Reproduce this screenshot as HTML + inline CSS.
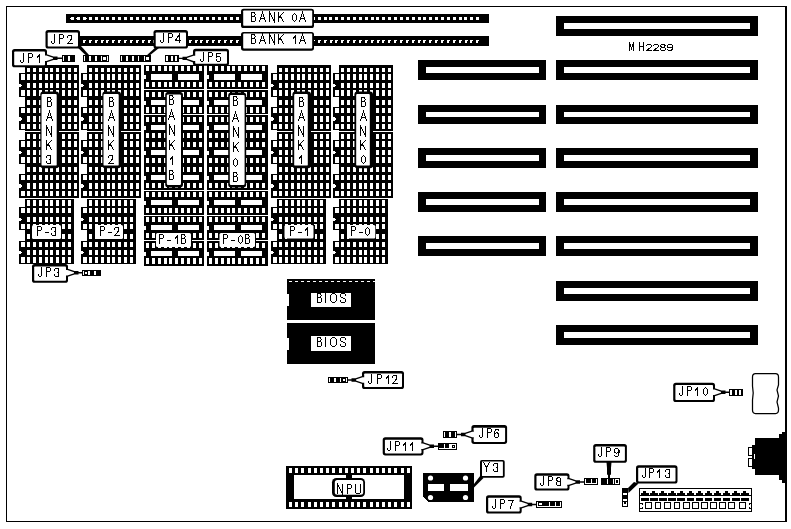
<!DOCTYPE html>
<html><head><meta charset="utf-8"><title>MH2289</title>
<style>
html,body{margin:0;padding:0;background:#fff;}
svg{display:block}
rect,path{shape-rendering:crispEdges}
.aa{shape-rendering:geometricPrecision}
.t{shape-rendering:crispEdges;fill:none;stroke:#000;stroke-linecap:square;stroke-linejoin:miter}
text.h{font-family:"Liberation Sans",sans-serif;fill:#000;fill-opacity:0;stroke:none}
</style></head><body>
<svg width="791" height="529" viewBox="0 0 791 529">
<rect width="791" height="529" fill="#fff"/>
<rect x="6" y="6" width="781" height="1" fill="#000"/>
<rect x="6" y="6" width="1" height="516" fill="#000"/>
<rect x="6" y="521" width="781" height="1" fill="#000"/>
<rect x="785" y="6" width="2" height="516" fill="#000"/>
<rect x="66" y="14" width="423" height="9" fill="#000"/>
<rect x="80" y="36" width="409" height="10" fill="#000"/>
<rect x="71" y="17" width="3" height="3" fill="#fff"/>
<rect x="77" y="17" width="3" height="3" fill="#fff"/>
<rect x="83" y="17" width="3" height="3" fill="#fff"/>
<rect x="89" y="17" width="3" height="3" fill="#fff"/>
<rect x="95" y="17" width="3" height="3" fill="#fff"/>
<rect x="101" y="17" width="3" height="3" fill="#fff"/>
<rect x="106" y="17" width="3" height="3" fill="#fff"/>
<rect x="112" y="17" width="3" height="3" fill="#fff"/>
<rect x="118" y="17" width="3" height="3" fill="#fff"/>
<rect x="124" y="17" width="3" height="3" fill="#fff"/>
<rect x="130" y="17" width="3" height="3" fill="#fff"/>
<rect x="136" y="17" width="3" height="3" fill="#fff"/>
<rect x="142" y="17" width="3" height="3" fill="#fff"/>
<rect x="148" y="17" width="3" height="3" fill="#fff"/>
<rect x="153" y="17" width="3" height="3" fill="#fff"/>
<rect x="159" y="17" width="3" height="3" fill="#fff"/>
<rect x="165" y="17" width="3" height="3" fill="#fff"/>
<rect x="171" y="17" width="3" height="3" fill="#fff"/>
<rect x="177" y="17" width="3" height="3" fill="#fff"/>
<rect x="183" y="17" width="3" height="3" fill="#fff"/>
<rect x="189" y="17" width="3" height="3" fill="#fff"/>
<rect x="194" y="17" width="3" height="3" fill="#fff"/>
<rect x="200" y="17" width="3" height="3" fill="#fff"/>
<rect x="206" y="17" width="3" height="3" fill="#fff"/>
<rect x="212" y="17" width="3" height="3" fill="#fff"/>
<rect x="218" y="17" width="3" height="3" fill="#fff"/>
<rect x="224" y="17" width="3" height="3" fill="#fff"/>
<rect x="230" y="17" width="3" height="3" fill="#fff"/>
<rect x="236" y="17" width="3" height="3" fill="#fff"/>
<rect x="241" y="17" width="3" height="3" fill="#fff"/>
<rect x="247" y="17" width="3" height="3" fill="#fff"/>
<rect x="253" y="17" width="3" height="3" fill="#fff"/>
<rect x="259" y="17" width="3" height="3" fill="#fff"/>
<rect x="265" y="17" width="3" height="3" fill="#fff"/>
<rect x="271" y="17" width="3" height="3" fill="#fff"/>
<rect x="277" y="17" width="3" height="3" fill="#fff"/>
<rect x="283" y="17" width="3" height="3" fill="#fff"/>
<rect x="288" y="17" width="3" height="3" fill="#fff"/>
<rect x="294" y="17" width="3" height="3" fill="#fff"/>
<rect x="300" y="17" width="3" height="3" fill="#fff"/>
<rect x="306" y="17" width="3" height="3" fill="#fff"/>
<rect x="312" y="17" width="3" height="3" fill="#fff"/>
<rect x="318" y="17" width="3" height="3" fill="#fff"/>
<rect x="324" y="17" width="3" height="3" fill="#fff"/>
<rect x="329" y="17" width="3" height="3" fill="#fff"/>
<rect x="335" y="17" width="3" height="3" fill="#fff"/>
<rect x="341" y="17" width="3" height="3" fill="#fff"/>
<rect x="347" y="17" width="3" height="3" fill="#fff"/>
<rect x="353" y="17" width="3" height="3" fill="#fff"/>
<rect x="359" y="17" width="3" height="3" fill="#fff"/>
<rect x="365" y="17" width="3" height="3" fill="#fff"/>
<rect x="371" y="17" width="3" height="3" fill="#fff"/>
<rect x="376" y="17" width="3" height="3" fill="#fff"/>
<rect x="382" y="17" width="3" height="3" fill="#fff"/>
<rect x="388" y="17" width="3" height="3" fill="#fff"/>
<rect x="394" y="17" width="3" height="3" fill="#fff"/>
<rect x="400" y="17" width="3" height="3" fill="#fff"/>
<rect x="406" y="17" width="3" height="3" fill="#fff"/>
<rect x="412" y="17" width="3" height="3" fill="#fff"/>
<rect x="418" y="17" width="3" height="3" fill="#fff"/>
<rect x="423" y="17" width="3" height="3" fill="#fff"/>
<rect x="429" y="17" width="3" height="3" fill="#fff"/>
<rect x="435" y="17" width="3" height="3" fill="#fff"/>
<rect x="441" y="17" width="3" height="3" fill="#fff"/>
<rect x="447" y="17" width="3" height="3" fill="#fff"/>
<rect x="453" y="17" width="3" height="3" fill="#fff"/>
<rect x="459" y="17" width="3" height="3" fill="#fff"/>
<rect x="464" y="17" width="3" height="3" fill="#fff"/>
<rect x="470" y="17" width="3" height="3" fill="#fff"/>
<rect x="476" y="17" width="3" height="3" fill="#fff"/>
<rect x="70" y="18" width="1" height="1" fill="#fff"/>
<rect x="76" y="18" width="1" height="1" fill="#fff"/>
<rect x="86" y="18" width="1" height="1" fill="#fff"/>
<rect x="83" y="40" width="2" height="3" fill="#fff"/>
<rect x="85" y="40" width="1" height="1" fill="#fff"/>
<rect x="89" y="40" width="2" height="3" fill="#fff"/>
<rect x="91" y="40" width="1" height="1" fill="#fff"/>
<rect x="95" y="40" width="2" height="3" fill="#fff"/>
<rect x="97" y="40" width="1" height="1" fill="#fff"/>
<rect x="101" y="40" width="2" height="3" fill="#fff"/>
<rect x="103" y="40" width="1" height="1" fill="#fff"/>
<rect x="106" y="40" width="2" height="3" fill="#fff"/>
<rect x="108" y="40" width="1" height="1" fill="#fff"/>
<rect x="112" y="40" width="2" height="3" fill="#fff"/>
<rect x="114" y="40" width="1" height="1" fill="#fff"/>
<rect x="118" y="40" width="2" height="3" fill="#fff"/>
<rect x="120" y="40" width="1" height="1" fill="#fff"/>
<rect x="124" y="40" width="2" height="3" fill="#fff"/>
<rect x="126" y="40" width="1" height="1" fill="#fff"/>
<rect x="130" y="40" width="2" height="3" fill="#fff"/>
<rect x="132" y="40" width="1" height="1" fill="#fff"/>
<rect x="136" y="40" width="2" height="3" fill="#fff"/>
<rect x="138" y="40" width="1" height="1" fill="#fff"/>
<rect x="142" y="40" width="2" height="3" fill="#fff"/>
<rect x="144" y="40" width="1" height="1" fill="#fff"/>
<rect x="148" y="40" width="2" height="3" fill="#fff"/>
<rect x="150" y="40" width="1" height="1" fill="#fff"/>
<rect x="153" y="40" width="2" height="3" fill="#fff"/>
<rect x="155" y="40" width="1" height="1" fill="#fff"/>
<rect x="159" y="40" width="2" height="3" fill="#fff"/>
<rect x="161" y="40" width="1" height="1" fill="#fff"/>
<rect x="165" y="40" width="2" height="3" fill="#fff"/>
<rect x="167" y="40" width="1" height="1" fill="#fff"/>
<rect x="171" y="40" width="2" height="3" fill="#fff"/>
<rect x="173" y="40" width="1" height="1" fill="#fff"/>
<rect x="177" y="40" width="2" height="3" fill="#fff"/>
<rect x="179" y="40" width="1" height="1" fill="#fff"/>
<rect x="183" y="40" width="2" height="3" fill="#fff"/>
<rect x="185" y="40" width="1" height="1" fill="#fff"/>
<rect x="189" y="40" width="2" height="3" fill="#fff"/>
<rect x="191" y="40" width="1" height="1" fill="#fff"/>
<rect x="195" y="40" width="2" height="3" fill="#fff"/>
<rect x="197" y="40" width="1" height="1" fill="#fff"/>
<rect x="200" y="40" width="2" height="3" fill="#fff"/>
<rect x="202" y="40" width="1" height="1" fill="#fff"/>
<rect x="206" y="40" width="2" height="3" fill="#fff"/>
<rect x="208" y="40" width="1" height="1" fill="#fff"/>
<rect x="212" y="40" width="2" height="3" fill="#fff"/>
<rect x="214" y="40" width="1" height="1" fill="#fff"/>
<rect x="218" y="40" width="2" height="3" fill="#fff"/>
<rect x="220" y="40" width="1" height="1" fill="#fff"/>
<rect x="224" y="40" width="2" height="3" fill="#fff"/>
<rect x="226" y="40" width="1" height="1" fill="#fff"/>
<rect x="230" y="40" width="2" height="3" fill="#fff"/>
<rect x="232" y="40" width="1" height="1" fill="#fff"/>
<rect x="236" y="40" width="2" height="3" fill="#fff"/>
<rect x="238" y="40" width="1" height="1" fill="#fff"/>
<rect x="241" y="40" width="2" height="3" fill="#fff"/>
<rect x="243" y="40" width="1" height="1" fill="#fff"/>
<rect x="247" y="40" width="2" height="3" fill="#fff"/>
<rect x="249" y="40" width="1" height="1" fill="#fff"/>
<rect x="253" y="40" width="2" height="3" fill="#fff"/>
<rect x="255" y="40" width="1" height="1" fill="#fff"/>
<rect x="259" y="40" width="2" height="3" fill="#fff"/>
<rect x="261" y="40" width="1" height="1" fill="#fff"/>
<rect x="265" y="40" width="2" height="3" fill="#fff"/>
<rect x="267" y="40" width="1" height="1" fill="#fff"/>
<rect x="271" y="40" width="2" height="3" fill="#fff"/>
<rect x="273" y="40" width="1" height="1" fill="#fff"/>
<rect x="277" y="40" width="2" height="3" fill="#fff"/>
<rect x="279" y="40" width="1" height="1" fill="#fff"/>
<rect x="283" y="40" width="2" height="3" fill="#fff"/>
<rect x="285" y="40" width="1" height="1" fill="#fff"/>
<rect x="288" y="40" width="2" height="3" fill="#fff"/>
<rect x="290" y="40" width="1" height="1" fill="#fff"/>
<rect x="294" y="40" width="2" height="3" fill="#fff"/>
<rect x="296" y="40" width="1" height="1" fill="#fff"/>
<rect x="300" y="40" width="2" height="3" fill="#fff"/>
<rect x="302" y="40" width="1" height="1" fill="#fff"/>
<rect x="306" y="40" width="2" height="3" fill="#fff"/>
<rect x="308" y="40" width="1" height="1" fill="#fff"/>
<rect x="312" y="40" width="2" height="3" fill="#fff"/>
<rect x="314" y="40" width="1" height="1" fill="#fff"/>
<rect x="318" y="40" width="2" height="3" fill="#fff"/>
<rect x="320" y="40" width="1" height="1" fill="#fff"/>
<rect x="324" y="40" width="2" height="3" fill="#fff"/>
<rect x="326" y="40" width="1" height="1" fill="#fff"/>
<rect x="330" y="40" width="2" height="3" fill="#fff"/>
<rect x="332" y="40" width="1" height="1" fill="#fff"/>
<rect x="335" y="40" width="2" height="3" fill="#fff"/>
<rect x="337" y="40" width="1" height="1" fill="#fff"/>
<rect x="341" y="40" width="2" height="3" fill="#fff"/>
<rect x="343" y="40" width="1" height="1" fill="#fff"/>
<rect x="347" y="40" width="2" height="3" fill="#fff"/>
<rect x="349" y="40" width="1" height="1" fill="#fff"/>
<rect x="353" y="40" width="2" height="3" fill="#fff"/>
<rect x="355" y="40" width="1" height="1" fill="#fff"/>
<rect x="359" y="40" width="2" height="3" fill="#fff"/>
<rect x="361" y="40" width="1" height="1" fill="#fff"/>
<rect x="365" y="40" width="2" height="3" fill="#fff"/>
<rect x="367" y="40" width="1" height="1" fill="#fff"/>
<rect x="371" y="40" width="2" height="3" fill="#fff"/>
<rect x="373" y="40" width="1" height="1" fill="#fff"/>
<rect x="377" y="40" width="2" height="3" fill="#fff"/>
<rect x="379" y="40" width="1" height="1" fill="#fff"/>
<rect x="382" y="40" width="2" height="3" fill="#fff"/>
<rect x="384" y="40" width="1" height="1" fill="#fff"/>
<rect x="388" y="40" width="2" height="3" fill="#fff"/>
<rect x="390" y="40" width="1" height="1" fill="#fff"/>
<rect x="394" y="40" width="2" height="3" fill="#fff"/>
<rect x="396" y="40" width="1" height="1" fill="#fff"/>
<rect x="400" y="40" width="2" height="3" fill="#fff"/>
<rect x="402" y="40" width="1" height="1" fill="#fff"/>
<rect x="406" y="40" width="2" height="3" fill="#fff"/>
<rect x="408" y="40" width="1" height="1" fill="#fff"/>
<rect x="412" y="40" width="2" height="3" fill="#fff"/>
<rect x="414" y="40" width="1" height="1" fill="#fff"/>
<rect x="418" y="40" width="2" height="3" fill="#fff"/>
<rect x="420" y="40" width="1" height="1" fill="#fff"/>
<rect x="423" y="40" width="2" height="3" fill="#fff"/>
<rect x="425" y="40" width="1" height="1" fill="#fff"/>
<rect x="429" y="40" width="2" height="3" fill="#fff"/>
<rect x="431" y="40" width="1" height="1" fill="#fff"/>
<rect x="435" y="40" width="2" height="3" fill="#fff"/>
<rect x="437" y="40" width="1" height="1" fill="#fff"/>
<rect x="441" y="40" width="2" height="3" fill="#fff"/>
<rect x="443" y="40" width="1" height="1" fill="#fff"/>
<rect x="447" y="40" width="2" height="3" fill="#fff"/>
<rect x="449" y="40" width="1" height="1" fill="#fff"/>
<rect x="453" y="40" width="2" height="3" fill="#fff"/>
<rect x="455" y="40" width="1" height="1" fill="#fff"/>
<rect x="459" y="40" width="2" height="3" fill="#fff"/>
<rect x="461" y="40" width="1" height="1" fill="#fff"/>
<rect x="465" y="40" width="2" height="3" fill="#fff"/>
<rect x="467" y="40" width="1" height="1" fill="#fff"/>
<rect x="470" y="40" width="2" height="3" fill="#fff"/>
<rect x="472" y="40" width="1" height="1" fill="#fff"/>
<rect x="476" y="40" width="2" height="3" fill="#fff"/>
<rect x="478" y="40" width="1" height="1" fill="#fff"/>
<rect x="556" y="16" width="202" height="20" fill="#000"/>
<rect x="564" y="23" width="186" height="6" fill="#fff"/>
<rect x="556" y="60" width="202" height="20" fill="#000"/>
<rect x="564" y="67" width="186" height="6" fill="#fff"/>
<rect x="556" y="105" width="202" height="19" fill="#000"/>
<rect x="564" y="112" width="186" height="5" fill="#fff"/>
<rect x="556" y="148" width="202" height="20" fill="#000"/>
<rect x="564" y="155" width="186" height="6" fill="#fff"/>
<rect x="556" y="192" width="202" height="20" fill="#000"/>
<rect x="564" y="199" width="186" height="6" fill="#fff"/>
<rect x="556" y="236" width="202" height="20" fill="#000"/>
<rect x="564" y="243" width="186" height="6" fill="#fff"/>
<rect x="556" y="281" width="202" height="20" fill="#000"/>
<rect x="564" y="288" width="186" height="6" fill="#fff"/>
<rect x="556" y="325" width="202" height="20" fill="#000"/>
<rect x="564" y="332" width="186" height="6" fill="#fff"/>
<rect x="418" y="60" width="128" height="20" fill="#000"/>
<rect x="426" y="67" width="113" height="6" fill="#fff"/>
<rect x="418" y="105" width="128" height="19" fill="#000"/>
<rect x="426" y="112" width="113" height="5" fill="#fff"/>
<rect x="418" y="148" width="128" height="20" fill="#000"/>
<rect x="426" y="155" width="113" height="6" fill="#fff"/>
<rect x="418" y="192" width="128" height="20" fill="#000"/>
<rect x="426" y="199" width="113" height="6" fill="#fff"/>
<rect x="418" y="236" width="128" height="20" fill="#000"/>
<rect x="426" y="243" width="113" height="6" fill="#fff"/>
<rect x="19" y="65" width="60" height="133" fill="#000"/>
<rect x="19" y="65" width="6" height="8" fill="#fff"/>
<rect x="27" y="68" width="3" height="4" fill="#fff"/>
<rect x="33" y="68" width="3" height="4" fill="#fff"/>
<rect x="39" y="68" width="3" height="4" fill="#fff"/>
<rect x="45" y="68" width="3" height="4" fill="#fff"/>
<rect x="50" y="68" width="3" height="4" fill="#fff"/>
<rect x="56" y="68" width="3" height="4" fill="#fff"/>
<rect x="62" y="68" width="3" height="4" fill="#fff"/>
<rect x="68" y="68" width="3" height="4" fill="#fff"/>
<rect x="74" y="68" width="3" height="4" fill="#fff"/>
<rect x="21" y="74" width="4" height="6" fill="#fff"/>
<rect x="27" y="74" width="3" height="6" fill="#fff"/>
<rect x="33" y="74" width="3" height="6" fill="#fff"/>
<rect x="39" y="74" width="3" height="6" fill="#fff"/>
<rect x="45" y="74" width="3" height="6" fill="#fff"/>
<rect x="50" y="74" width="3" height="6" fill="#fff"/>
<rect x="56" y="74" width="3" height="6" fill="#fff"/>
<rect x="62" y="74" width="3" height="6" fill="#fff"/>
<rect x="68" y="74" width="3" height="6" fill="#fff"/>
<rect x="74" y="74" width="3" height="6" fill="#fff"/>
<rect x="19" y="84" width="2" height="3" fill="#fff"/>
<rect x="21" y="85" width="1" height="1" fill="#fff"/>
<rect x="27" y="83" width="3" height="5" fill="#fff"/>
<rect x="33" y="83" width="3" height="5" fill="#fff"/>
<rect x="39" y="83" width="3" height="5" fill="#fff"/>
<rect x="45" y="83" width="3" height="5" fill="#fff"/>
<rect x="50" y="83" width="3" height="5" fill="#fff"/>
<rect x="56" y="83" width="3" height="5" fill="#fff"/>
<rect x="62" y="83" width="3" height="5" fill="#fff"/>
<rect x="68" y="83" width="3" height="5" fill="#fff"/>
<rect x="74" y="83" width="3" height="5" fill="#fff"/>
<rect x="21" y="90" width="4" height="6" fill="#fff"/>
<rect x="27" y="90" width="3" height="6" fill="#fff"/>
<rect x="33" y="90" width="3" height="6" fill="#fff"/>
<rect x="39" y="90" width="3" height="6" fill="#fff"/>
<rect x="45" y="90" width="3" height="6" fill="#fff"/>
<rect x="50" y="90" width="3" height="6" fill="#fff"/>
<rect x="56" y="90" width="3" height="6" fill="#fff"/>
<rect x="62" y="90" width="3" height="6" fill="#fff"/>
<rect x="68" y="90" width="3" height="6" fill="#fff"/>
<rect x="74" y="90" width="3" height="6" fill="#fff"/>
<rect x="19" y="97" width="6" height="10" fill="#fff"/>
<rect x="27" y="100" width="3" height="5" fill="#fff"/>
<rect x="33" y="100" width="3" height="5" fill="#fff"/>
<rect x="39" y="100" width="3" height="5" fill="#fff"/>
<rect x="45" y="100" width="3" height="5" fill="#fff"/>
<rect x="50" y="100" width="3" height="5" fill="#fff"/>
<rect x="56" y="100" width="3" height="5" fill="#fff"/>
<rect x="62" y="100" width="3" height="5" fill="#fff"/>
<rect x="68" y="100" width="3" height="5" fill="#fff"/>
<rect x="74" y="100" width="3" height="5" fill="#fff"/>
<rect x="21" y="108" width="4" height="5" fill="#fff"/>
<rect x="27" y="108" width="3" height="5" fill="#fff"/>
<rect x="33" y="108" width="3" height="5" fill="#fff"/>
<rect x="39" y="108" width="3" height="5" fill="#fff"/>
<rect x="45" y="108" width="3" height="5" fill="#fff"/>
<rect x="50" y="108" width="3" height="5" fill="#fff"/>
<rect x="56" y="108" width="3" height="5" fill="#fff"/>
<rect x="62" y="108" width="3" height="5" fill="#fff"/>
<rect x="68" y="108" width="3" height="5" fill="#fff"/>
<rect x="74" y="108" width="3" height="5" fill="#fff"/>
<rect x="19" y="117" width="2" height="4" fill="#fff"/>
<rect x="21" y="118" width="1" height="2" fill="#fff"/>
<rect x="27" y="116" width="3" height="6" fill="#fff"/>
<rect x="33" y="116" width="3" height="6" fill="#fff"/>
<rect x="39" y="116" width="3" height="6" fill="#fff"/>
<rect x="45" y="116" width="3" height="6" fill="#fff"/>
<rect x="50" y="116" width="3" height="6" fill="#fff"/>
<rect x="56" y="116" width="3" height="6" fill="#fff"/>
<rect x="62" y="116" width="3" height="6" fill="#fff"/>
<rect x="68" y="116" width="3" height="6" fill="#fff"/>
<rect x="74" y="116" width="3" height="6" fill="#fff"/>
<rect x="21" y="124" width="4" height="5" fill="#fff"/>
<rect x="27" y="124" width="3" height="5" fill="#fff"/>
<rect x="33" y="124" width="3" height="5" fill="#fff"/>
<rect x="39" y="124" width="3" height="5" fill="#fff"/>
<rect x="45" y="124" width="3" height="5" fill="#fff"/>
<rect x="50" y="124" width="3" height="5" fill="#fff"/>
<rect x="56" y="124" width="3" height="5" fill="#fff"/>
<rect x="62" y="124" width="3" height="5" fill="#fff"/>
<rect x="68" y="124" width="3" height="5" fill="#fff"/>
<rect x="74" y="124" width="3" height="5" fill="#fff"/>
<rect x="19" y="130" width="6" height="10" fill="#fff"/>
<rect x="19" y="131" width="60" height="1" fill="#fff"/>
<rect x="27" y="134" width="3" height="5" fill="#fff"/>
<rect x="33" y="134" width="3" height="5" fill="#fff"/>
<rect x="39" y="134" width="3" height="5" fill="#fff"/>
<rect x="45" y="134" width="3" height="5" fill="#fff"/>
<rect x="50" y="134" width="3" height="5" fill="#fff"/>
<rect x="56" y="134" width="3" height="5" fill="#fff"/>
<rect x="62" y="134" width="3" height="5" fill="#fff"/>
<rect x="68" y="134" width="3" height="5" fill="#fff"/>
<rect x="74" y="134" width="3" height="5" fill="#fff"/>
<rect x="21" y="141" width="4" height="6" fill="#fff"/>
<rect x="27" y="141" width="3" height="6" fill="#fff"/>
<rect x="33" y="141" width="3" height="6" fill="#fff"/>
<rect x="39" y="141" width="3" height="6" fill="#fff"/>
<rect x="45" y="141" width="3" height="6" fill="#fff"/>
<rect x="50" y="141" width="3" height="6" fill="#fff"/>
<rect x="56" y="141" width="3" height="6" fill="#fff"/>
<rect x="62" y="141" width="3" height="6" fill="#fff"/>
<rect x="68" y="141" width="3" height="6" fill="#fff"/>
<rect x="74" y="141" width="3" height="6" fill="#fff"/>
<rect x="19" y="151" width="2" height="3" fill="#fff"/>
<rect x="21" y="152" width="1" height="1" fill="#fff"/>
<rect x="27" y="150" width="3" height="5" fill="#fff"/>
<rect x="33" y="150" width="3" height="5" fill="#fff"/>
<rect x="39" y="150" width="3" height="5" fill="#fff"/>
<rect x="45" y="150" width="3" height="5" fill="#fff"/>
<rect x="50" y="150" width="3" height="5" fill="#fff"/>
<rect x="56" y="150" width="3" height="5" fill="#fff"/>
<rect x="62" y="150" width="3" height="5" fill="#fff"/>
<rect x="68" y="150" width="3" height="5" fill="#fff"/>
<rect x="74" y="150" width="3" height="5" fill="#fff"/>
<rect x="21" y="157" width="4" height="6" fill="#fff"/>
<rect x="27" y="157" width="3" height="6" fill="#fff"/>
<rect x="33" y="157" width="3" height="6" fill="#fff"/>
<rect x="39" y="157" width="3" height="6" fill="#fff"/>
<rect x="45" y="157" width="3" height="6" fill="#fff"/>
<rect x="50" y="157" width="3" height="6" fill="#fff"/>
<rect x="56" y="157" width="3" height="6" fill="#fff"/>
<rect x="62" y="157" width="3" height="6" fill="#fff"/>
<rect x="68" y="157" width="3" height="6" fill="#fff"/>
<rect x="74" y="157" width="3" height="6" fill="#fff"/>
<rect x="19" y="164" width="6" height="10" fill="#fff"/>
<rect x="27" y="167" width="3" height="5" fill="#fff"/>
<rect x="33" y="167" width="3" height="5" fill="#fff"/>
<rect x="39" y="167" width="3" height="5" fill="#fff"/>
<rect x="45" y="167" width="3" height="5" fill="#fff"/>
<rect x="50" y="167" width="3" height="5" fill="#fff"/>
<rect x="56" y="167" width="3" height="5" fill="#fff"/>
<rect x="62" y="167" width="3" height="5" fill="#fff"/>
<rect x="68" y="167" width="3" height="5" fill="#fff"/>
<rect x="74" y="167" width="3" height="5" fill="#fff"/>
<rect x="21" y="175" width="4" height="5" fill="#fff"/>
<rect x="27" y="175" width="3" height="5" fill="#fff"/>
<rect x="33" y="175" width="3" height="5" fill="#fff"/>
<rect x="39" y="175" width="3" height="5" fill="#fff"/>
<rect x="45" y="175" width="3" height="5" fill="#fff"/>
<rect x="50" y="175" width="3" height="5" fill="#fff"/>
<rect x="56" y="175" width="3" height="5" fill="#fff"/>
<rect x="62" y="175" width="3" height="5" fill="#fff"/>
<rect x="68" y="175" width="3" height="5" fill="#fff"/>
<rect x="74" y="175" width="3" height="5" fill="#fff"/>
<rect x="19" y="184" width="2" height="4" fill="#fff"/>
<rect x="21" y="185" width="1" height="2" fill="#fff"/>
<rect x="27" y="183" width="3" height="6" fill="#fff"/>
<rect x="33" y="183" width="3" height="6" fill="#fff"/>
<rect x="39" y="183" width="3" height="6" fill="#fff"/>
<rect x="45" y="183" width="3" height="6" fill="#fff"/>
<rect x="50" y="183" width="3" height="6" fill="#fff"/>
<rect x="56" y="183" width="3" height="6" fill="#fff"/>
<rect x="62" y="183" width="3" height="6" fill="#fff"/>
<rect x="68" y="183" width="3" height="6" fill="#fff"/>
<rect x="74" y="183" width="3" height="6" fill="#fff"/>
<rect x="21" y="191" width="4" height="5" fill="#fff"/>
<rect x="27" y="191" width="3" height="5" fill="#fff"/>
<rect x="33" y="191" width="3" height="5" fill="#fff"/>
<rect x="39" y="191" width="3" height="5" fill="#fff"/>
<rect x="45" y="191" width="3" height="5" fill="#fff"/>
<rect x="50" y="191" width="3" height="5" fill="#fff"/>
<rect x="56" y="191" width="3" height="5" fill="#fff"/>
<rect x="62" y="191" width="3" height="5" fill="#fff"/>
<rect x="68" y="191" width="3" height="5" fill="#fff"/>
<rect x="74" y="191" width="3" height="5" fill="#fff"/>
<rect x="19" y="199" width="55" height="65" fill="#000"/>
<rect x="19" y="199" width="6" height="8" fill="#fff"/>
<rect x="27" y="200" width="3" height="6" fill="#fff"/>
<rect x="33" y="200" width="3" height="6" fill="#fff"/>
<rect x="39" y="200" width="3" height="6" fill="#fff"/>
<rect x="45" y="200" width="3" height="6" fill="#fff"/>
<rect x="50" y="200" width="3" height="6" fill="#fff"/>
<rect x="56" y="200" width="3" height="6" fill="#fff"/>
<rect x="62" y="200" width="3" height="6" fill="#fff"/>
<rect x="68" y="200" width="3" height="6" fill="#fff"/>
<rect x="21" y="208" width="4" height="5" fill="#fff"/>
<rect x="27" y="208" width="3" height="5" fill="#fff"/>
<rect x="33" y="208" width="3" height="5" fill="#fff"/>
<rect x="39" y="208" width="3" height="5" fill="#fff"/>
<rect x="45" y="208" width="3" height="5" fill="#fff"/>
<rect x="50" y="208" width="3" height="5" fill="#fff"/>
<rect x="56" y="208" width="3" height="5" fill="#fff"/>
<rect x="62" y="208" width="3" height="5" fill="#fff"/>
<rect x="68" y="208" width="3" height="5" fill="#fff"/>
<rect x="19" y="218" width="2" height="3" fill="#fff"/>
<rect x="21" y="219" width="1" height="1" fill="#fff"/>
<rect x="27" y="217" width="3" height="5" fill="#fff"/>
<rect x="33" y="217" width="3" height="5" fill="#fff"/>
<rect x="39" y="217" width="3" height="5" fill="#fff"/>
<rect x="45" y="217" width="3" height="5" fill="#fff"/>
<rect x="50" y="217" width="3" height="5" fill="#fff"/>
<rect x="56" y="217" width="3" height="5" fill="#fff"/>
<rect x="62" y="217" width="3" height="5" fill="#fff"/>
<rect x="68" y="217" width="3" height="5" fill="#fff"/>
<rect x="21" y="224" width="4" height="5" fill="#fff"/>
<rect x="27" y="224" width="3" height="5" fill="#fff"/>
<rect x="33" y="224" width="3" height="5" fill="#fff"/>
<rect x="39" y="224" width="3" height="5" fill="#fff"/>
<rect x="45" y="224" width="3" height="5" fill="#fff"/>
<rect x="50" y="224" width="3" height="5" fill="#fff"/>
<rect x="56" y="224" width="3" height="5" fill="#fff"/>
<rect x="62" y="224" width="3" height="5" fill="#fff"/>
<rect x="68" y="224" width="3" height="5" fill="#fff"/>
<rect x="19" y="230" width="6" height="11" fill="#fff"/>
<rect x="27" y="234" width="3" height="5" fill="#fff"/>
<rect x="33" y="234" width="3" height="5" fill="#fff"/>
<rect x="39" y="234" width="3" height="5" fill="#fff"/>
<rect x="45" y="234" width="3" height="5" fill="#fff"/>
<rect x="50" y="234" width="3" height="5" fill="#fff"/>
<rect x="56" y="234" width="3" height="5" fill="#fff"/>
<rect x="62" y="234" width="3" height="5" fill="#fff"/>
<rect x="68" y="234" width="3" height="5" fill="#fff"/>
<rect x="21" y="242" width="4" height="5" fill="#fff"/>
<rect x="27" y="242" width="3" height="5" fill="#fff"/>
<rect x="33" y="242" width="3" height="5" fill="#fff"/>
<rect x="39" y="242" width="3" height="5" fill="#fff"/>
<rect x="45" y="242" width="3" height="5" fill="#fff"/>
<rect x="50" y="242" width="3" height="5" fill="#fff"/>
<rect x="56" y="242" width="3" height="5" fill="#fff"/>
<rect x="62" y="242" width="3" height="5" fill="#fff"/>
<rect x="68" y="242" width="3" height="5" fill="#fff"/>
<rect x="19" y="251" width="2" height="3" fill="#fff"/>
<rect x="21" y="252" width="1" height="1" fill="#fff"/>
<rect x="27" y="250" width="3" height="5" fill="#fff"/>
<rect x="33" y="250" width="3" height="5" fill="#fff"/>
<rect x="39" y="250" width="3" height="5" fill="#fff"/>
<rect x="45" y="250" width="3" height="5" fill="#fff"/>
<rect x="50" y="250" width="3" height="5" fill="#fff"/>
<rect x="56" y="250" width="3" height="5" fill="#fff"/>
<rect x="62" y="250" width="3" height="5" fill="#fff"/>
<rect x="68" y="250" width="3" height="5" fill="#fff"/>
<rect x="21" y="257" width="4" height="6" fill="#fff"/>
<rect x="27" y="257" width="3" height="6" fill="#fff"/>
<rect x="33" y="257" width="3" height="6" fill="#fff"/>
<rect x="39" y="257" width="3" height="6" fill="#fff"/>
<rect x="45" y="257" width="3" height="6" fill="#fff"/>
<rect x="50" y="257" width="3" height="6" fill="#fff"/>
<rect x="56" y="257" width="3" height="6" fill="#fff"/>
<rect x="62" y="257" width="3" height="6" fill="#fff"/>
<rect x="68" y="257" width="3" height="6" fill="#fff"/>
<rect x="81" y="65" width="60" height="133" fill="#000"/>
<rect x="81" y="65" width="6" height="8" fill="#fff"/>
<rect x="89" y="68" width="3" height="4" fill="#fff"/>
<rect x="95" y="68" width="3" height="4" fill="#fff"/>
<rect x="101" y="68" width="3" height="4" fill="#fff"/>
<rect x="107" y="68" width="3" height="4" fill="#fff"/>
<rect x="112" y="68" width="3" height="4" fill="#fff"/>
<rect x="118" y="68" width="3" height="4" fill="#fff"/>
<rect x="124" y="68" width="3" height="4" fill="#fff"/>
<rect x="130" y="68" width="3" height="4" fill="#fff"/>
<rect x="136" y="68" width="3" height="4" fill="#fff"/>
<rect x="83" y="74" width="4" height="6" fill="#fff"/>
<rect x="89" y="74" width="3" height="6" fill="#fff"/>
<rect x="95" y="74" width="3" height="6" fill="#fff"/>
<rect x="101" y="74" width="3" height="6" fill="#fff"/>
<rect x="107" y="74" width="3" height="6" fill="#fff"/>
<rect x="112" y="74" width="3" height="6" fill="#fff"/>
<rect x="118" y="74" width="3" height="6" fill="#fff"/>
<rect x="124" y="74" width="3" height="6" fill="#fff"/>
<rect x="130" y="74" width="3" height="6" fill="#fff"/>
<rect x="136" y="74" width="3" height="6" fill="#fff"/>
<rect x="81" y="84" width="2" height="3" fill="#fff"/>
<rect x="83" y="85" width="1" height="1" fill="#fff"/>
<rect x="89" y="83" width="3" height="5" fill="#fff"/>
<rect x="95" y="83" width="3" height="5" fill="#fff"/>
<rect x="101" y="83" width="3" height="5" fill="#fff"/>
<rect x="107" y="83" width="3" height="5" fill="#fff"/>
<rect x="112" y="83" width="3" height="5" fill="#fff"/>
<rect x="118" y="83" width="3" height="5" fill="#fff"/>
<rect x="124" y="83" width="3" height="5" fill="#fff"/>
<rect x="130" y="83" width="3" height="5" fill="#fff"/>
<rect x="136" y="83" width="3" height="5" fill="#fff"/>
<rect x="83" y="90" width="4" height="6" fill="#fff"/>
<rect x="89" y="90" width="3" height="6" fill="#fff"/>
<rect x="95" y="90" width="3" height="6" fill="#fff"/>
<rect x="101" y="90" width="3" height="6" fill="#fff"/>
<rect x="107" y="90" width="3" height="6" fill="#fff"/>
<rect x="112" y="90" width="3" height="6" fill="#fff"/>
<rect x="118" y="90" width="3" height="6" fill="#fff"/>
<rect x="124" y="90" width="3" height="6" fill="#fff"/>
<rect x="130" y="90" width="3" height="6" fill="#fff"/>
<rect x="136" y="90" width="3" height="6" fill="#fff"/>
<rect x="81" y="97" width="6" height="10" fill="#fff"/>
<rect x="89" y="100" width="3" height="5" fill="#fff"/>
<rect x="95" y="100" width="3" height="5" fill="#fff"/>
<rect x="101" y="100" width="3" height="5" fill="#fff"/>
<rect x="107" y="100" width="3" height="5" fill="#fff"/>
<rect x="112" y="100" width="3" height="5" fill="#fff"/>
<rect x="118" y="100" width="3" height="5" fill="#fff"/>
<rect x="124" y="100" width="3" height="5" fill="#fff"/>
<rect x="130" y="100" width="3" height="5" fill="#fff"/>
<rect x="136" y="100" width="3" height="5" fill="#fff"/>
<rect x="83" y="108" width="4" height="5" fill="#fff"/>
<rect x="89" y="108" width="3" height="5" fill="#fff"/>
<rect x="95" y="108" width="3" height="5" fill="#fff"/>
<rect x="101" y="108" width="3" height="5" fill="#fff"/>
<rect x="107" y="108" width="3" height="5" fill="#fff"/>
<rect x="112" y="108" width="3" height="5" fill="#fff"/>
<rect x="118" y="108" width="3" height="5" fill="#fff"/>
<rect x="124" y="108" width="3" height="5" fill="#fff"/>
<rect x="130" y="108" width="3" height="5" fill="#fff"/>
<rect x="136" y="108" width="3" height="5" fill="#fff"/>
<rect x="81" y="117" width="2" height="4" fill="#fff"/>
<rect x="83" y="118" width="1" height="2" fill="#fff"/>
<rect x="89" y="116" width="3" height="6" fill="#fff"/>
<rect x="95" y="116" width="3" height="6" fill="#fff"/>
<rect x="101" y="116" width="3" height="6" fill="#fff"/>
<rect x="107" y="116" width="3" height="6" fill="#fff"/>
<rect x="112" y="116" width="3" height="6" fill="#fff"/>
<rect x="118" y="116" width="3" height="6" fill="#fff"/>
<rect x="124" y="116" width="3" height="6" fill="#fff"/>
<rect x="130" y="116" width="3" height="6" fill="#fff"/>
<rect x="136" y="116" width="3" height="6" fill="#fff"/>
<rect x="83" y="124" width="4" height="5" fill="#fff"/>
<rect x="89" y="124" width="3" height="5" fill="#fff"/>
<rect x="95" y="124" width="3" height="5" fill="#fff"/>
<rect x="101" y="124" width="3" height="5" fill="#fff"/>
<rect x="107" y="124" width="3" height="5" fill="#fff"/>
<rect x="112" y="124" width="3" height="5" fill="#fff"/>
<rect x="118" y="124" width="3" height="5" fill="#fff"/>
<rect x="124" y="124" width="3" height="5" fill="#fff"/>
<rect x="130" y="124" width="3" height="5" fill="#fff"/>
<rect x="136" y="124" width="3" height="5" fill="#fff"/>
<rect x="81" y="130" width="6" height="10" fill="#fff"/>
<rect x="81" y="131" width="60" height="1" fill="#fff"/>
<rect x="89" y="134" width="3" height="5" fill="#fff"/>
<rect x="95" y="134" width="3" height="5" fill="#fff"/>
<rect x="101" y="134" width="3" height="5" fill="#fff"/>
<rect x="107" y="134" width="3" height="5" fill="#fff"/>
<rect x="112" y="134" width="3" height="5" fill="#fff"/>
<rect x="118" y="134" width="3" height="5" fill="#fff"/>
<rect x="124" y="134" width="3" height="5" fill="#fff"/>
<rect x="130" y="134" width="3" height="5" fill="#fff"/>
<rect x="136" y="134" width="3" height="5" fill="#fff"/>
<rect x="83" y="141" width="4" height="6" fill="#fff"/>
<rect x="89" y="141" width="3" height="6" fill="#fff"/>
<rect x="95" y="141" width="3" height="6" fill="#fff"/>
<rect x="101" y="141" width="3" height="6" fill="#fff"/>
<rect x="107" y="141" width="3" height="6" fill="#fff"/>
<rect x="112" y="141" width="3" height="6" fill="#fff"/>
<rect x="118" y="141" width="3" height="6" fill="#fff"/>
<rect x="124" y="141" width="3" height="6" fill="#fff"/>
<rect x="130" y="141" width="3" height="6" fill="#fff"/>
<rect x="136" y="141" width="3" height="6" fill="#fff"/>
<rect x="81" y="151" width="2" height="3" fill="#fff"/>
<rect x="83" y="152" width="1" height="1" fill="#fff"/>
<rect x="89" y="150" width="3" height="5" fill="#fff"/>
<rect x="95" y="150" width="3" height="5" fill="#fff"/>
<rect x="101" y="150" width="3" height="5" fill="#fff"/>
<rect x="107" y="150" width="3" height="5" fill="#fff"/>
<rect x="112" y="150" width="3" height="5" fill="#fff"/>
<rect x="118" y="150" width="3" height="5" fill="#fff"/>
<rect x="124" y="150" width="3" height="5" fill="#fff"/>
<rect x="130" y="150" width="3" height="5" fill="#fff"/>
<rect x="136" y="150" width="3" height="5" fill="#fff"/>
<rect x="83" y="157" width="4" height="6" fill="#fff"/>
<rect x="89" y="157" width="3" height="6" fill="#fff"/>
<rect x="95" y="157" width="3" height="6" fill="#fff"/>
<rect x="101" y="157" width="3" height="6" fill="#fff"/>
<rect x="107" y="157" width="3" height="6" fill="#fff"/>
<rect x="112" y="157" width="3" height="6" fill="#fff"/>
<rect x="118" y="157" width="3" height="6" fill="#fff"/>
<rect x="124" y="157" width="3" height="6" fill="#fff"/>
<rect x="130" y="157" width="3" height="6" fill="#fff"/>
<rect x="136" y="157" width="3" height="6" fill="#fff"/>
<rect x="81" y="164" width="6" height="10" fill="#fff"/>
<rect x="89" y="167" width="3" height="5" fill="#fff"/>
<rect x="95" y="167" width="3" height="5" fill="#fff"/>
<rect x="101" y="167" width="3" height="5" fill="#fff"/>
<rect x="107" y="167" width="3" height="5" fill="#fff"/>
<rect x="112" y="167" width="3" height="5" fill="#fff"/>
<rect x="118" y="167" width="3" height="5" fill="#fff"/>
<rect x="124" y="167" width="3" height="5" fill="#fff"/>
<rect x="130" y="167" width="3" height="5" fill="#fff"/>
<rect x="136" y="167" width="3" height="5" fill="#fff"/>
<rect x="83" y="175" width="4" height="5" fill="#fff"/>
<rect x="89" y="175" width="3" height="5" fill="#fff"/>
<rect x="95" y="175" width="3" height="5" fill="#fff"/>
<rect x="101" y="175" width="3" height="5" fill="#fff"/>
<rect x="107" y="175" width="3" height="5" fill="#fff"/>
<rect x="112" y="175" width="3" height="5" fill="#fff"/>
<rect x="118" y="175" width="3" height="5" fill="#fff"/>
<rect x="124" y="175" width="3" height="5" fill="#fff"/>
<rect x="130" y="175" width="3" height="5" fill="#fff"/>
<rect x="136" y="175" width="3" height="5" fill="#fff"/>
<rect x="81" y="184" width="2" height="4" fill="#fff"/>
<rect x="83" y="185" width="1" height="2" fill="#fff"/>
<rect x="89" y="183" width="3" height="6" fill="#fff"/>
<rect x="95" y="183" width="3" height="6" fill="#fff"/>
<rect x="101" y="183" width="3" height="6" fill="#fff"/>
<rect x="107" y="183" width="3" height="6" fill="#fff"/>
<rect x="112" y="183" width="3" height="6" fill="#fff"/>
<rect x="118" y="183" width="3" height="6" fill="#fff"/>
<rect x="124" y="183" width="3" height="6" fill="#fff"/>
<rect x="130" y="183" width="3" height="6" fill="#fff"/>
<rect x="136" y="183" width="3" height="6" fill="#fff"/>
<rect x="83" y="191" width="4" height="5" fill="#fff"/>
<rect x="89" y="191" width="3" height="5" fill="#fff"/>
<rect x="95" y="191" width="3" height="5" fill="#fff"/>
<rect x="101" y="191" width="3" height="5" fill="#fff"/>
<rect x="107" y="191" width="3" height="5" fill="#fff"/>
<rect x="112" y="191" width="3" height="5" fill="#fff"/>
<rect x="118" y="191" width="3" height="5" fill="#fff"/>
<rect x="124" y="191" width="3" height="5" fill="#fff"/>
<rect x="130" y="191" width="3" height="5" fill="#fff"/>
<rect x="136" y="191" width="3" height="5" fill="#fff"/>
<rect x="81" y="199" width="55" height="65" fill="#000"/>
<rect x="81" y="199" width="6" height="8" fill="#fff"/>
<rect x="89" y="200" width="3" height="6" fill="#fff"/>
<rect x="95" y="200" width="3" height="6" fill="#fff"/>
<rect x="101" y="200" width="3" height="6" fill="#fff"/>
<rect x="107" y="200" width="3" height="6" fill="#fff"/>
<rect x="112" y="200" width="3" height="6" fill="#fff"/>
<rect x="118" y="200" width="3" height="6" fill="#fff"/>
<rect x="124" y="200" width="3" height="6" fill="#fff"/>
<rect x="130" y="200" width="3" height="6" fill="#fff"/>
<rect x="83" y="208" width="4" height="5" fill="#fff"/>
<rect x="89" y="208" width="3" height="5" fill="#fff"/>
<rect x="95" y="208" width="3" height="5" fill="#fff"/>
<rect x="101" y="208" width="3" height="5" fill="#fff"/>
<rect x="107" y="208" width="3" height="5" fill="#fff"/>
<rect x="112" y="208" width="3" height="5" fill="#fff"/>
<rect x="118" y="208" width="3" height="5" fill="#fff"/>
<rect x="124" y="208" width="3" height="5" fill="#fff"/>
<rect x="130" y="208" width="3" height="5" fill="#fff"/>
<rect x="81" y="218" width="2" height="3" fill="#fff"/>
<rect x="83" y="219" width="1" height="1" fill="#fff"/>
<rect x="89" y="217" width="3" height="5" fill="#fff"/>
<rect x="95" y="217" width="3" height="5" fill="#fff"/>
<rect x="101" y="217" width="3" height="5" fill="#fff"/>
<rect x="107" y="217" width="3" height="5" fill="#fff"/>
<rect x="112" y="217" width="3" height="5" fill="#fff"/>
<rect x="118" y="217" width="3" height="5" fill="#fff"/>
<rect x="124" y="217" width="3" height="5" fill="#fff"/>
<rect x="130" y="217" width="3" height="5" fill="#fff"/>
<rect x="83" y="224" width="4" height="5" fill="#fff"/>
<rect x="89" y="224" width="3" height="5" fill="#fff"/>
<rect x="95" y="224" width="3" height="5" fill="#fff"/>
<rect x="101" y="224" width="3" height="5" fill="#fff"/>
<rect x="107" y="224" width="3" height="5" fill="#fff"/>
<rect x="112" y="224" width="3" height="5" fill="#fff"/>
<rect x="118" y="224" width="3" height="5" fill="#fff"/>
<rect x="124" y="224" width="3" height="5" fill="#fff"/>
<rect x="130" y="224" width="3" height="5" fill="#fff"/>
<rect x="81" y="230" width="6" height="11" fill="#fff"/>
<rect x="89" y="234" width="3" height="5" fill="#fff"/>
<rect x="95" y="234" width="3" height="5" fill="#fff"/>
<rect x="101" y="234" width="3" height="5" fill="#fff"/>
<rect x="107" y="234" width="3" height="5" fill="#fff"/>
<rect x="112" y="234" width="3" height="5" fill="#fff"/>
<rect x="118" y="234" width="3" height="5" fill="#fff"/>
<rect x="124" y="234" width="3" height="5" fill="#fff"/>
<rect x="130" y="234" width="3" height="5" fill="#fff"/>
<rect x="83" y="242" width="4" height="5" fill="#fff"/>
<rect x="89" y="242" width="3" height="5" fill="#fff"/>
<rect x="95" y="242" width="3" height="5" fill="#fff"/>
<rect x="101" y="242" width="3" height="5" fill="#fff"/>
<rect x="107" y="242" width="3" height="5" fill="#fff"/>
<rect x="112" y="242" width="3" height="5" fill="#fff"/>
<rect x="118" y="242" width="3" height="5" fill="#fff"/>
<rect x="124" y="242" width="3" height="5" fill="#fff"/>
<rect x="130" y="242" width="3" height="5" fill="#fff"/>
<rect x="81" y="251" width="2" height="3" fill="#fff"/>
<rect x="83" y="252" width="1" height="1" fill="#fff"/>
<rect x="89" y="250" width="3" height="5" fill="#fff"/>
<rect x="95" y="250" width="3" height="5" fill="#fff"/>
<rect x="101" y="250" width="3" height="5" fill="#fff"/>
<rect x="107" y="250" width="3" height="5" fill="#fff"/>
<rect x="112" y="250" width="3" height="5" fill="#fff"/>
<rect x="118" y="250" width="3" height="5" fill="#fff"/>
<rect x="124" y="250" width="3" height="5" fill="#fff"/>
<rect x="130" y="250" width="3" height="5" fill="#fff"/>
<rect x="83" y="257" width="4" height="6" fill="#fff"/>
<rect x="89" y="257" width="3" height="6" fill="#fff"/>
<rect x="95" y="257" width="3" height="6" fill="#fff"/>
<rect x="101" y="257" width="3" height="6" fill="#fff"/>
<rect x="107" y="257" width="3" height="6" fill="#fff"/>
<rect x="112" y="257" width="3" height="6" fill="#fff"/>
<rect x="118" y="257" width="3" height="6" fill="#fff"/>
<rect x="124" y="257" width="3" height="6" fill="#fff"/>
<rect x="130" y="257" width="3" height="6" fill="#fff"/>
<rect x="271" y="65" width="60" height="133" fill="#000"/>
<rect x="271" y="65" width="6" height="8" fill="#fff"/>
<rect x="279" y="68" width="3" height="4" fill="#fff"/>
<rect x="285" y="68" width="3" height="4" fill="#fff"/>
<rect x="291" y="68" width="3" height="4" fill="#fff"/>
<rect x="297" y="68" width="3" height="4" fill="#fff"/>
<rect x="302" y="68" width="3" height="4" fill="#fff"/>
<rect x="308" y="68" width="3" height="4" fill="#fff"/>
<rect x="314" y="68" width="3" height="4" fill="#fff"/>
<rect x="320" y="68" width="3" height="4" fill="#fff"/>
<rect x="326" y="68" width="3" height="4" fill="#fff"/>
<rect x="273" y="74" width="4" height="6" fill="#fff"/>
<rect x="279" y="74" width="3" height="6" fill="#fff"/>
<rect x="285" y="74" width="3" height="6" fill="#fff"/>
<rect x="291" y="74" width="3" height="6" fill="#fff"/>
<rect x="297" y="74" width="3" height="6" fill="#fff"/>
<rect x="302" y="74" width="3" height="6" fill="#fff"/>
<rect x="308" y="74" width="3" height="6" fill="#fff"/>
<rect x="314" y="74" width="3" height="6" fill="#fff"/>
<rect x="320" y="74" width="3" height="6" fill="#fff"/>
<rect x="326" y="74" width="3" height="6" fill="#fff"/>
<rect x="271" y="84" width="2" height="3" fill="#fff"/>
<rect x="273" y="85" width="1" height="1" fill="#fff"/>
<rect x="279" y="83" width="3" height="5" fill="#fff"/>
<rect x="285" y="83" width="3" height="5" fill="#fff"/>
<rect x="291" y="83" width="3" height="5" fill="#fff"/>
<rect x="297" y="83" width="3" height="5" fill="#fff"/>
<rect x="302" y="83" width="3" height="5" fill="#fff"/>
<rect x="308" y="83" width="3" height="5" fill="#fff"/>
<rect x="314" y="83" width="3" height="5" fill="#fff"/>
<rect x="320" y="83" width="3" height="5" fill="#fff"/>
<rect x="326" y="83" width="3" height="5" fill="#fff"/>
<rect x="273" y="90" width="4" height="6" fill="#fff"/>
<rect x="279" y="90" width="3" height="6" fill="#fff"/>
<rect x="285" y="90" width="3" height="6" fill="#fff"/>
<rect x="291" y="90" width="3" height="6" fill="#fff"/>
<rect x="297" y="90" width="3" height="6" fill="#fff"/>
<rect x="302" y="90" width="3" height="6" fill="#fff"/>
<rect x="308" y="90" width="3" height="6" fill="#fff"/>
<rect x="314" y="90" width="3" height="6" fill="#fff"/>
<rect x="320" y="90" width="3" height="6" fill="#fff"/>
<rect x="326" y="90" width="3" height="6" fill="#fff"/>
<rect x="271" y="97" width="6" height="10" fill="#fff"/>
<rect x="279" y="100" width="3" height="5" fill="#fff"/>
<rect x="285" y="100" width="3" height="5" fill="#fff"/>
<rect x="291" y="100" width="3" height="5" fill="#fff"/>
<rect x="297" y="100" width="3" height="5" fill="#fff"/>
<rect x="302" y="100" width="3" height="5" fill="#fff"/>
<rect x="308" y="100" width="3" height="5" fill="#fff"/>
<rect x="314" y="100" width="3" height="5" fill="#fff"/>
<rect x="320" y="100" width="3" height="5" fill="#fff"/>
<rect x="326" y="100" width="3" height="5" fill="#fff"/>
<rect x="273" y="108" width="4" height="5" fill="#fff"/>
<rect x="279" y="108" width="3" height="5" fill="#fff"/>
<rect x="285" y="108" width="3" height="5" fill="#fff"/>
<rect x="291" y="108" width="3" height="5" fill="#fff"/>
<rect x="297" y="108" width="3" height="5" fill="#fff"/>
<rect x="302" y="108" width="3" height="5" fill="#fff"/>
<rect x="308" y="108" width="3" height="5" fill="#fff"/>
<rect x="314" y="108" width="3" height="5" fill="#fff"/>
<rect x="320" y="108" width="3" height="5" fill="#fff"/>
<rect x="326" y="108" width="3" height="5" fill="#fff"/>
<rect x="271" y="117" width="2" height="4" fill="#fff"/>
<rect x="273" y="118" width="1" height="2" fill="#fff"/>
<rect x="279" y="116" width="3" height="6" fill="#fff"/>
<rect x="285" y="116" width="3" height="6" fill="#fff"/>
<rect x="291" y="116" width="3" height="6" fill="#fff"/>
<rect x="297" y="116" width="3" height="6" fill="#fff"/>
<rect x="302" y="116" width="3" height="6" fill="#fff"/>
<rect x="308" y="116" width="3" height="6" fill="#fff"/>
<rect x="314" y="116" width="3" height="6" fill="#fff"/>
<rect x="320" y="116" width="3" height="6" fill="#fff"/>
<rect x="326" y="116" width="3" height="6" fill="#fff"/>
<rect x="273" y="124" width="4" height="5" fill="#fff"/>
<rect x="279" y="124" width="3" height="5" fill="#fff"/>
<rect x="285" y="124" width="3" height="5" fill="#fff"/>
<rect x="291" y="124" width="3" height="5" fill="#fff"/>
<rect x="297" y="124" width="3" height="5" fill="#fff"/>
<rect x="302" y="124" width="3" height="5" fill="#fff"/>
<rect x="308" y="124" width="3" height="5" fill="#fff"/>
<rect x="314" y="124" width="3" height="5" fill="#fff"/>
<rect x="320" y="124" width="3" height="5" fill="#fff"/>
<rect x="326" y="124" width="3" height="5" fill="#fff"/>
<rect x="271" y="130" width="6" height="10" fill="#fff"/>
<rect x="271" y="131" width="60" height="1" fill="#fff"/>
<rect x="279" y="134" width="3" height="5" fill="#fff"/>
<rect x="285" y="134" width="3" height="5" fill="#fff"/>
<rect x="291" y="134" width="3" height="5" fill="#fff"/>
<rect x="297" y="134" width="3" height="5" fill="#fff"/>
<rect x="302" y="134" width="3" height="5" fill="#fff"/>
<rect x="308" y="134" width="3" height="5" fill="#fff"/>
<rect x="314" y="134" width="3" height="5" fill="#fff"/>
<rect x="320" y="134" width="3" height="5" fill="#fff"/>
<rect x="326" y="134" width="3" height="5" fill="#fff"/>
<rect x="273" y="141" width="4" height="6" fill="#fff"/>
<rect x="279" y="141" width="3" height="6" fill="#fff"/>
<rect x="285" y="141" width="3" height="6" fill="#fff"/>
<rect x="291" y="141" width="3" height="6" fill="#fff"/>
<rect x="297" y="141" width="3" height="6" fill="#fff"/>
<rect x="302" y="141" width="3" height="6" fill="#fff"/>
<rect x="308" y="141" width="3" height="6" fill="#fff"/>
<rect x="314" y="141" width="3" height="6" fill="#fff"/>
<rect x="320" y="141" width="3" height="6" fill="#fff"/>
<rect x="326" y="141" width="3" height="6" fill="#fff"/>
<rect x="271" y="151" width="2" height="3" fill="#fff"/>
<rect x="273" y="152" width="1" height="1" fill="#fff"/>
<rect x="279" y="150" width="3" height="5" fill="#fff"/>
<rect x="285" y="150" width="3" height="5" fill="#fff"/>
<rect x="291" y="150" width="3" height="5" fill="#fff"/>
<rect x="297" y="150" width="3" height="5" fill="#fff"/>
<rect x="302" y="150" width="3" height="5" fill="#fff"/>
<rect x="308" y="150" width="3" height="5" fill="#fff"/>
<rect x="314" y="150" width="3" height="5" fill="#fff"/>
<rect x="320" y="150" width="3" height="5" fill="#fff"/>
<rect x="326" y="150" width="3" height="5" fill="#fff"/>
<rect x="273" y="157" width="4" height="6" fill="#fff"/>
<rect x="279" y="157" width="3" height="6" fill="#fff"/>
<rect x="285" y="157" width="3" height="6" fill="#fff"/>
<rect x="291" y="157" width="3" height="6" fill="#fff"/>
<rect x="297" y="157" width="3" height="6" fill="#fff"/>
<rect x="302" y="157" width="3" height="6" fill="#fff"/>
<rect x="308" y="157" width="3" height="6" fill="#fff"/>
<rect x="314" y="157" width="3" height="6" fill="#fff"/>
<rect x="320" y="157" width="3" height="6" fill="#fff"/>
<rect x="326" y="157" width="3" height="6" fill="#fff"/>
<rect x="271" y="164" width="6" height="10" fill="#fff"/>
<rect x="279" y="167" width="3" height="5" fill="#fff"/>
<rect x="285" y="167" width="3" height="5" fill="#fff"/>
<rect x="291" y="167" width="3" height="5" fill="#fff"/>
<rect x="297" y="167" width="3" height="5" fill="#fff"/>
<rect x="302" y="167" width="3" height="5" fill="#fff"/>
<rect x="308" y="167" width="3" height="5" fill="#fff"/>
<rect x="314" y="167" width="3" height="5" fill="#fff"/>
<rect x="320" y="167" width="3" height="5" fill="#fff"/>
<rect x="326" y="167" width="3" height="5" fill="#fff"/>
<rect x="273" y="175" width="4" height="5" fill="#fff"/>
<rect x="279" y="175" width="3" height="5" fill="#fff"/>
<rect x="285" y="175" width="3" height="5" fill="#fff"/>
<rect x="291" y="175" width="3" height="5" fill="#fff"/>
<rect x="297" y="175" width="3" height="5" fill="#fff"/>
<rect x="302" y="175" width="3" height="5" fill="#fff"/>
<rect x="308" y="175" width="3" height="5" fill="#fff"/>
<rect x="314" y="175" width="3" height="5" fill="#fff"/>
<rect x="320" y="175" width="3" height="5" fill="#fff"/>
<rect x="326" y="175" width="3" height="5" fill="#fff"/>
<rect x="271" y="184" width="2" height="4" fill="#fff"/>
<rect x="273" y="185" width="1" height="2" fill="#fff"/>
<rect x="279" y="183" width="3" height="6" fill="#fff"/>
<rect x="285" y="183" width="3" height="6" fill="#fff"/>
<rect x="291" y="183" width="3" height="6" fill="#fff"/>
<rect x="297" y="183" width="3" height="6" fill="#fff"/>
<rect x="302" y="183" width="3" height="6" fill="#fff"/>
<rect x="308" y="183" width="3" height="6" fill="#fff"/>
<rect x="314" y="183" width="3" height="6" fill="#fff"/>
<rect x="320" y="183" width="3" height="6" fill="#fff"/>
<rect x="326" y="183" width="3" height="6" fill="#fff"/>
<rect x="273" y="191" width="4" height="5" fill="#fff"/>
<rect x="279" y="191" width="3" height="5" fill="#fff"/>
<rect x="285" y="191" width="3" height="5" fill="#fff"/>
<rect x="291" y="191" width="3" height="5" fill="#fff"/>
<rect x="297" y="191" width="3" height="5" fill="#fff"/>
<rect x="302" y="191" width="3" height="5" fill="#fff"/>
<rect x="308" y="191" width="3" height="5" fill="#fff"/>
<rect x="314" y="191" width="3" height="5" fill="#fff"/>
<rect x="320" y="191" width="3" height="5" fill="#fff"/>
<rect x="326" y="191" width="3" height="5" fill="#fff"/>
<rect x="271" y="199" width="55" height="65" fill="#000"/>
<rect x="271" y="199" width="6" height="8" fill="#fff"/>
<rect x="279" y="200" width="3" height="6" fill="#fff"/>
<rect x="285" y="200" width="3" height="6" fill="#fff"/>
<rect x="291" y="200" width="3" height="6" fill="#fff"/>
<rect x="297" y="200" width="3" height="6" fill="#fff"/>
<rect x="302" y="200" width="3" height="6" fill="#fff"/>
<rect x="308" y="200" width="3" height="6" fill="#fff"/>
<rect x="314" y="200" width="3" height="6" fill="#fff"/>
<rect x="320" y="200" width="3" height="6" fill="#fff"/>
<rect x="273" y="208" width="4" height="5" fill="#fff"/>
<rect x="279" y="208" width="3" height="5" fill="#fff"/>
<rect x="285" y="208" width="3" height="5" fill="#fff"/>
<rect x="291" y="208" width="3" height="5" fill="#fff"/>
<rect x="297" y="208" width="3" height="5" fill="#fff"/>
<rect x="302" y="208" width="3" height="5" fill="#fff"/>
<rect x="308" y="208" width="3" height="5" fill="#fff"/>
<rect x="314" y="208" width="3" height="5" fill="#fff"/>
<rect x="320" y="208" width="3" height="5" fill="#fff"/>
<rect x="271" y="218" width="2" height="3" fill="#fff"/>
<rect x="273" y="219" width="1" height="1" fill="#fff"/>
<rect x="279" y="217" width="3" height="5" fill="#fff"/>
<rect x="285" y="217" width="3" height="5" fill="#fff"/>
<rect x="291" y="217" width="3" height="5" fill="#fff"/>
<rect x="297" y="217" width="3" height="5" fill="#fff"/>
<rect x="302" y="217" width="3" height="5" fill="#fff"/>
<rect x="308" y="217" width="3" height="5" fill="#fff"/>
<rect x="314" y="217" width="3" height="5" fill="#fff"/>
<rect x="320" y="217" width="3" height="5" fill="#fff"/>
<rect x="273" y="224" width="4" height="5" fill="#fff"/>
<rect x="279" y="224" width="3" height="5" fill="#fff"/>
<rect x="285" y="224" width="3" height="5" fill="#fff"/>
<rect x="291" y="224" width="3" height="5" fill="#fff"/>
<rect x="297" y="224" width="3" height="5" fill="#fff"/>
<rect x="302" y="224" width="3" height="5" fill="#fff"/>
<rect x="308" y="224" width="3" height="5" fill="#fff"/>
<rect x="314" y="224" width="3" height="5" fill="#fff"/>
<rect x="320" y="224" width="3" height="5" fill="#fff"/>
<rect x="271" y="230" width="6" height="11" fill="#fff"/>
<rect x="279" y="234" width="3" height="5" fill="#fff"/>
<rect x="285" y="234" width="3" height="5" fill="#fff"/>
<rect x="291" y="234" width="3" height="5" fill="#fff"/>
<rect x="297" y="234" width="3" height="5" fill="#fff"/>
<rect x="302" y="234" width="3" height="5" fill="#fff"/>
<rect x="308" y="234" width="3" height="5" fill="#fff"/>
<rect x="314" y="234" width="3" height="5" fill="#fff"/>
<rect x="320" y="234" width="3" height="5" fill="#fff"/>
<rect x="273" y="242" width="4" height="5" fill="#fff"/>
<rect x="279" y="242" width="3" height="5" fill="#fff"/>
<rect x="285" y="242" width="3" height="5" fill="#fff"/>
<rect x="291" y="242" width="3" height="5" fill="#fff"/>
<rect x="297" y="242" width="3" height="5" fill="#fff"/>
<rect x="302" y="242" width="3" height="5" fill="#fff"/>
<rect x="308" y="242" width="3" height="5" fill="#fff"/>
<rect x="314" y="242" width="3" height="5" fill="#fff"/>
<rect x="320" y="242" width="3" height="5" fill="#fff"/>
<rect x="271" y="251" width="2" height="3" fill="#fff"/>
<rect x="273" y="252" width="1" height="1" fill="#fff"/>
<rect x="279" y="250" width="3" height="5" fill="#fff"/>
<rect x="285" y="250" width="3" height="5" fill="#fff"/>
<rect x="291" y="250" width="3" height="5" fill="#fff"/>
<rect x="297" y="250" width="3" height="5" fill="#fff"/>
<rect x="302" y="250" width="3" height="5" fill="#fff"/>
<rect x="308" y="250" width="3" height="5" fill="#fff"/>
<rect x="314" y="250" width="3" height="5" fill="#fff"/>
<rect x="320" y="250" width="3" height="5" fill="#fff"/>
<rect x="273" y="257" width="4" height="6" fill="#fff"/>
<rect x="279" y="257" width="3" height="6" fill="#fff"/>
<rect x="285" y="257" width="3" height="6" fill="#fff"/>
<rect x="291" y="257" width="3" height="6" fill="#fff"/>
<rect x="297" y="257" width="3" height="6" fill="#fff"/>
<rect x="302" y="257" width="3" height="6" fill="#fff"/>
<rect x="308" y="257" width="3" height="6" fill="#fff"/>
<rect x="314" y="257" width="3" height="6" fill="#fff"/>
<rect x="320" y="257" width="3" height="6" fill="#fff"/>
<rect x="333" y="65" width="60" height="133" fill="#000"/>
<rect x="333" y="65" width="6" height="8" fill="#fff"/>
<rect x="341" y="68" width="3" height="4" fill="#fff"/>
<rect x="347" y="68" width="3" height="4" fill="#fff"/>
<rect x="353" y="68" width="3" height="4" fill="#fff"/>
<rect x="359" y="68" width="3" height="4" fill="#fff"/>
<rect x="364" y="68" width="3" height="4" fill="#fff"/>
<rect x="370" y="68" width="3" height="4" fill="#fff"/>
<rect x="376" y="68" width="3" height="4" fill="#fff"/>
<rect x="382" y="68" width="3" height="4" fill="#fff"/>
<rect x="388" y="68" width="3" height="4" fill="#fff"/>
<rect x="335" y="74" width="4" height="6" fill="#fff"/>
<rect x="341" y="74" width="3" height="6" fill="#fff"/>
<rect x="347" y="74" width="3" height="6" fill="#fff"/>
<rect x="353" y="74" width="3" height="6" fill="#fff"/>
<rect x="359" y="74" width="3" height="6" fill="#fff"/>
<rect x="364" y="74" width="3" height="6" fill="#fff"/>
<rect x="370" y="74" width="3" height="6" fill="#fff"/>
<rect x="376" y="74" width="3" height="6" fill="#fff"/>
<rect x="382" y="74" width="3" height="6" fill="#fff"/>
<rect x="388" y="74" width="3" height="6" fill="#fff"/>
<rect x="333" y="84" width="2" height="3" fill="#fff"/>
<rect x="335" y="85" width="1" height="1" fill="#fff"/>
<rect x="341" y="83" width="3" height="5" fill="#fff"/>
<rect x="347" y="83" width="3" height="5" fill="#fff"/>
<rect x="353" y="83" width="3" height="5" fill="#fff"/>
<rect x="359" y="83" width="3" height="5" fill="#fff"/>
<rect x="364" y="83" width="3" height="5" fill="#fff"/>
<rect x="370" y="83" width="3" height="5" fill="#fff"/>
<rect x="376" y="83" width="3" height="5" fill="#fff"/>
<rect x="382" y="83" width="3" height="5" fill="#fff"/>
<rect x="388" y="83" width="3" height="5" fill="#fff"/>
<rect x="335" y="90" width="4" height="6" fill="#fff"/>
<rect x="341" y="90" width="3" height="6" fill="#fff"/>
<rect x="347" y="90" width="3" height="6" fill="#fff"/>
<rect x="353" y="90" width="3" height="6" fill="#fff"/>
<rect x="359" y="90" width="3" height="6" fill="#fff"/>
<rect x="364" y="90" width="3" height="6" fill="#fff"/>
<rect x="370" y="90" width="3" height="6" fill="#fff"/>
<rect x="376" y="90" width="3" height="6" fill="#fff"/>
<rect x="382" y="90" width="3" height="6" fill="#fff"/>
<rect x="388" y="90" width="3" height="6" fill="#fff"/>
<rect x="333" y="97" width="6" height="10" fill="#fff"/>
<rect x="341" y="100" width="3" height="5" fill="#fff"/>
<rect x="347" y="100" width="3" height="5" fill="#fff"/>
<rect x="353" y="100" width="3" height="5" fill="#fff"/>
<rect x="359" y="100" width="3" height="5" fill="#fff"/>
<rect x="364" y="100" width="3" height="5" fill="#fff"/>
<rect x="370" y="100" width="3" height="5" fill="#fff"/>
<rect x="376" y="100" width="3" height="5" fill="#fff"/>
<rect x="382" y="100" width="3" height="5" fill="#fff"/>
<rect x="388" y="100" width="3" height="5" fill="#fff"/>
<rect x="335" y="108" width="4" height="5" fill="#fff"/>
<rect x="341" y="108" width="3" height="5" fill="#fff"/>
<rect x="347" y="108" width="3" height="5" fill="#fff"/>
<rect x="353" y="108" width="3" height="5" fill="#fff"/>
<rect x="359" y="108" width="3" height="5" fill="#fff"/>
<rect x="364" y="108" width="3" height="5" fill="#fff"/>
<rect x="370" y="108" width="3" height="5" fill="#fff"/>
<rect x="376" y="108" width="3" height="5" fill="#fff"/>
<rect x="382" y="108" width="3" height="5" fill="#fff"/>
<rect x="388" y="108" width="3" height="5" fill="#fff"/>
<rect x="333" y="117" width="2" height="4" fill="#fff"/>
<rect x="335" y="118" width="1" height="2" fill="#fff"/>
<rect x="341" y="116" width="3" height="6" fill="#fff"/>
<rect x="347" y="116" width="3" height="6" fill="#fff"/>
<rect x="353" y="116" width="3" height="6" fill="#fff"/>
<rect x="359" y="116" width="3" height="6" fill="#fff"/>
<rect x="364" y="116" width="3" height="6" fill="#fff"/>
<rect x="370" y="116" width="3" height="6" fill="#fff"/>
<rect x="376" y="116" width="3" height="6" fill="#fff"/>
<rect x="382" y="116" width="3" height="6" fill="#fff"/>
<rect x="388" y="116" width="3" height="6" fill="#fff"/>
<rect x="335" y="124" width="4" height="5" fill="#fff"/>
<rect x="341" y="124" width="3" height="5" fill="#fff"/>
<rect x="347" y="124" width="3" height="5" fill="#fff"/>
<rect x="353" y="124" width="3" height="5" fill="#fff"/>
<rect x="359" y="124" width="3" height="5" fill="#fff"/>
<rect x="364" y="124" width="3" height="5" fill="#fff"/>
<rect x="370" y="124" width="3" height="5" fill="#fff"/>
<rect x="376" y="124" width="3" height="5" fill="#fff"/>
<rect x="382" y="124" width="3" height="5" fill="#fff"/>
<rect x="388" y="124" width="3" height="5" fill="#fff"/>
<rect x="333" y="130" width="6" height="10" fill="#fff"/>
<rect x="333" y="131" width="60" height="1" fill="#fff"/>
<rect x="341" y="134" width="3" height="5" fill="#fff"/>
<rect x="347" y="134" width="3" height="5" fill="#fff"/>
<rect x="353" y="134" width="3" height="5" fill="#fff"/>
<rect x="359" y="134" width="3" height="5" fill="#fff"/>
<rect x="364" y="134" width="3" height="5" fill="#fff"/>
<rect x="370" y="134" width="3" height="5" fill="#fff"/>
<rect x="376" y="134" width="3" height="5" fill="#fff"/>
<rect x="382" y="134" width="3" height="5" fill="#fff"/>
<rect x="388" y="134" width="3" height="5" fill="#fff"/>
<rect x="335" y="141" width="4" height="6" fill="#fff"/>
<rect x="341" y="141" width="3" height="6" fill="#fff"/>
<rect x="347" y="141" width="3" height="6" fill="#fff"/>
<rect x="353" y="141" width="3" height="6" fill="#fff"/>
<rect x="359" y="141" width="3" height="6" fill="#fff"/>
<rect x="364" y="141" width="3" height="6" fill="#fff"/>
<rect x="370" y="141" width="3" height="6" fill="#fff"/>
<rect x="376" y="141" width="3" height="6" fill="#fff"/>
<rect x="382" y="141" width="3" height="6" fill="#fff"/>
<rect x="388" y="141" width="3" height="6" fill="#fff"/>
<rect x="333" y="151" width="2" height="3" fill="#fff"/>
<rect x="335" y="152" width="1" height="1" fill="#fff"/>
<rect x="341" y="150" width="3" height="5" fill="#fff"/>
<rect x="347" y="150" width="3" height="5" fill="#fff"/>
<rect x="353" y="150" width="3" height="5" fill="#fff"/>
<rect x="359" y="150" width="3" height="5" fill="#fff"/>
<rect x="364" y="150" width="3" height="5" fill="#fff"/>
<rect x="370" y="150" width="3" height="5" fill="#fff"/>
<rect x="376" y="150" width="3" height="5" fill="#fff"/>
<rect x="382" y="150" width="3" height="5" fill="#fff"/>
<rect x="388" y="150" width="3" height="5" fill="#fff"/>
<rect x="335" y="157" width="4" height="6" fill="#fff"/>
<rect x="341" y="157" width="3" height="6" fill="#fff"/>
<rect x="347" y="157" width="3" height="6" fill="#fff"/>
<rect x="353" y="157" width="3" height="6" fill="#fff"/>
<rect x="359" y="157" width="3" height="6" fill="#fff"/>
<rect x="364" y="157" width="3" height="6" fill="#fff"/>
<rect x="370" y="157" width="3" height="6" fill="#fff"/>
<rect x="376" y="157" width="3" height="6" fill="#fff"/>
<rect x="382" y="157" width="3" height="6" fill="#fff"/>
<rect x="388" y="157" width="3" height="6" fill="#fff"/>
<rect x="333" y="164" width="6" height="10" fill="#fff"/>
<rect x="341" y="167" width="3" height="5" fill="#fff"/>
<rect x="347" y="167" width="3" height="5" fill="#fff"/>
<rect x="353" y="167" width="3" height="5" fill="#fff"/>
<rect x="359" y="167" width="3" height="5" fill="#fff"/>
<rect x="364" y="167" width="3" height="5" fill="#fff"/>
<rect x="370" y="167" width="3" height="5" fill="#fff"/>
<rect x="376" y="167" width="3" height="5" fill="#fff"/>
<rect x="382" y="167" width="3" height="5" fill="#fff"/>
<rect x="388" y="167" width="3" height="5" fill="#fff"/>
<rect x="335" y="175" width="4" height="5" fill="#fff"/>
<rect x="341" y="175" width="3" height="5" fill="#fff"/>
<rect x="347" y="175" width="3" height="5" fill="#fff"/>
<rect x="353" y="175" width="3" height="5" fill="#fff"/>
<rect x="359" y="175" width="3" height="5" fill="#fff"/>
<rect x="364" y="175" width="3" height="5" fill="#fff"/>
<rect x="370" y="175" width="3" height="5" fill="#fff"/>
<rect x="376" y="175" width="3" height="5" fill="#fff"/>
<rect x="382" y="175" width="3" height="5" fill="#fff"/>
<rect x="388" y="175" width="3" height="5" fill="#fff"/>
<rect x="333" y="184" width="2" height="4" fill="#fff"/>
<rect x="335" y="185" width="1" height="2" fill="#fff"/>
<rect x="341" y="183" width="3" height="6" fill="#fff"/>
<rect x="347" y="183" width="3" height="6" fill="#fff"/>
<rect x="353" y="183" width="3" height="6" fill="#fff"/>
<rect x="359" y="183" width="3" height="6" fill="#fff"/>
<rect x="364" y="183" width="3" height="6" fill="#fff"/>
<rect x="370" y="183" width="3" height="6" fill="#fff"/>
<rect x="376" y="183" width="3" height="6" fill="#fff"/>
<rect x="382" y="183" width="3" height="6" fill="#fff"/>
<rect x="388" y="183" width="3" height="6" fill="#fff"/>
<rect x="335" y="191" width="4" height="5" fill="#fff"/>
<rect x="341" y="191" width="3" height="5" fill="#fff"/>
<rect x="347" y="191" width="3" height="5" fill="#fff"/>
<rect x="353" y="191" width="3" height="5" fill="#fff"/>
<rect x="359" y="191" width="3" height="5" fill="#fff"/>
<rect x="364" y="191" width="3" height="5" fill="#fff"/>
<rect x="370" y="191" width="3" height="5" fill="#fff"/>
<rect x="376" y="191" width="3" height="5" fill="#fff"/>
<rect x="382" y="191" width="3" height="5" fill="#fff"/>
<rect x="388" y="191" width="3" height="5" fill="#fff"/>
<rect x="333" y="199" width="55" height="65" fill="#000"/>
<rect x="333" y="199" width="6" height="8" fill="#fff"/>
<rect x="341" y="200" width="3" height="6" fill="#fff"/>
<rect x="347" y="200" width="3" height="6" fill="#fff"/>
<rect x="353" y="200" width="3" height="6" fill="#fff"/>
<rect x="359" y="200" width="3" height="6" fill="#fff"/>
<rect x="364" y="200" width="3" height="6" fill="#fff"/>
<rect x="370" y="200" width="3" height="6" fill="#fff"/>
<rect x="376" y="200" width="3" height="6" fill="#fff"/>
<rect x="382" y="200" width="3" height="6" fill="#fff"/>
<rect x="335" y="208" width="4" height="5" fill="#fff"/>
<rect x="341" y="208" width="3" height="5" fill="#fff"/>
<rect x="347" y="208" width="3" height="5" fill="#fff"/>
<rect x="353" y="208" width="3" height="5" fill="#fff"/>
<rect x="359" y="208" width="3" height="5" fill="#fff"/>
<rect x="364" y="208" width="3" height="5" fill="#fff"/>
<rect x="370" y="208" width="3" height="5" fill="#fff"/>
<rect x="376" y="208" width="3" height="5" fill="#fff"/>
<rect x="382" y="208" width="3" height="5" fill="#fff"/>
<rect x="333" y="218" width="2" height="3" fill="#fff"/>
<rect x="335" y="219" width="1" height="1" fill="#fff"/>
<rect x="341" y="217" width="3" height="5" fill="#fff"/>
<rect x="347" y="217" width="3" height="5" fill="#fff"/>
<rect x="353" y="217" width="3" height="5" fill="#fff"/>
<rect x="359" y="217" width="3" height="5" fill="#fff"/>
<rect x="364" y="217" width="3" height="5" fill="#fff"/>
<rect x="370" y="217" width="3" height="5" fill="#fff"/>
<rect x="376" y="217" width="3" height="5" fill="#fff"/>
<rect x="382" y="217" width="3" height="5" fill="#fff"/>
<rect x="335" y="224" width="4" height="5" fill="#fff"/>
<rect x="341" y="224" width="3" height="5" fill="#fff"/>
<rect x="347" y="224" width="3" height="5" fill="#fff"/>
<rect x="353" y="224" width="3" height="5" fill="#fff"/>
<rect x="359" y="224" width="3" height="5" fill="#fff"/>
<rect x="364" y="224" width="3" height="5" fill="#fff"/>
<rect x="370" y="224" width="3" height="5" fill="#fff"/>
<rect x="376" y="224" width="3" height="5" fill="#fff"/>
<rect x="382" y="224" width="3" height="5" fill="#fff"/>
<rect x="333" y="230" width="6" height="11" fill="#fff"/>
<rect x="341" y="234" width="3" height="5" fill="#fff"/>
<rect x="347" y="234" width="3" height="5" fill="#fff"/>
<rect x="353" y="234" width="3" height="5" fill="#fff"/>
<rect x="359" y="234" width="3" height="5" fill="#fff"/>
<rect x="364" y="234" width="3" height="5" fill="#fff"/>
<rect x="370" y="234" width="3" height="5" fill="#fff"/>
<rect x="376" y="234" width="3" height="5" fill="#fff"/>
<rect x="382" y="234" width="3" height="5" fill="#fff"/>
<rect x="335" y="242" width="4" height="5" fill="#fff"/>
<rect x="341" y="242" width="3" height="5" fill="#fff"/>
<rect x="347" y="242" width="3" height="5" fill="#fff"/>
<rect x="353" y="242" width="3" height="5" fill="#fff"/>
<rect x="359" y="242" width="3" height="5" fill="#fff"/>
<rect x="364" y="242" width="3" height="5" fill="#fff"/>
<rect x="370" y="242" width="3" height="5" fill="#fff"/>
<rect x="376" y="242" width="3" height="5" fill="#fff"/>
<rect x="382" y="242" width="3" height="5" fill="#fff"/>
<rect x="333" y="251" width="2" height="3" fill="#fff"/>
<rect x="335" y="252" width="1" height="1" fill="#fff"/>
<rect x="341" y="250" width="3" height="5" fill="#fff"/>
<rect x="347" y="250" width="3" height="5" fill="#fff"/>
<rect x="353" y="250" width="3" height="5" fill="#fff"/>
<rect x="359" y="250" width="3" height="5" fill="#fff"/>
<rect x="364" y="250" width="3" height="5" fill="#fff"/>
<rect x="370" y="250" width="3" height="5" fill="#fff"/>
<rect x="376" y="250" width="3" height="5" fill="#fff"/>
<rect x="382" y="250" width="3" height="5" fill="#fff"/>
<rect x="335" y="257" width="4" height="6" fill="#fff"/>
<rect x="341" y="257" width="3" height="6" fill="#fff"/>
<rect x="347" y="257" width="3" height="6" fill="#fff"/>
<rect x="353" y="257" width="3" height="6" fill="#fff"/>
<rect x="359" y="257" width="3" height="6" fill="#fff"/>
<rect x="364" y="257" width="3" height="6" fill="#fff"/>
<rect x="370" y="257" width="3" height="6" fill="#fff"/>
<rect x="376" y="257" width="3" height="6" fill="#fff"/>
<rect x="382" y="257" width="3" height="6" fill="#fff"/>
<rect x="144" y="65" width="60" height="201" fill="#000"/>
<rect x="144" y="89" width="60" height="1" fill="#fff"/>
<rect x="144" y="114" width="60" height="1" fill="#fff"/>
<rect x="144" y="190" width="60" height="1" fill="#fff"/>
<rect x="144" y="215" width="60" height="1" fill="#fff"/>
<rect x="144" y="240" width="60" height="1" fill="#fff"/>
<rect x="146" y="66" width="3" height="5" fill="#fff"/>
<rect x="152" y="66" width="3" height="5" fill="#fff"/>
<rect x="158" y="66" width="3" height="5" fill="#fff"/>
<rect x="164" y="66" width="3" height="5" fill="#fff"/>
<rect x="169" y="66" width="3" height="5" fill="#fff"/>
<rect x="175" y="66" width="3" height="5" fill="#fff"/>
<rect x="181" y="66" width="3" height="5" fill="#fff"/>
<rect x="187" y="66" width="3" height="5" fill="#fff"/>
<rect x="193" y="66" width="3" height="5" fill="#fff"/>
<rect x="199" y="66" width="3" height="5" fill="#fff"/>
<rect x="146" y="82" width="3" height="5" fill="#fff"/>
<rect x="152" y="82" width="3" height="5" fill="#fff"/>
<rect x="158" y="82" width="3" height="5" fill="#fff"/>
<rect x="164" y="82" width="3" height="5" fill="#fff"/>
<rect x="169" y="82" width="3" height="5" fill="#fff"/>
<rect x="175" y="82" width="3" height="5" fill="#fff"/>
<rect x="181" y="82" width="3" height="5" fill="#fff"/>
<rect x="187" y="82" width="3" height="5" fill="#fff"/>
<rect x="193" y="82" width="3" height="5" fill="#fff"/>
<rect x="199" y="82" width="3" height="5" fill="#fff"/>
<rect x="151" y="74" width="21" height="6" fill="#fff"/>
<rect x="178" y="74" width="21" height="6" fill="#fff"/>
<rect x="144" y="75" width="2" height="4" fill="#fff"/>
<rect x="146" y="92" width="3" height="5" fill="#fff"/>
<rect x="152" y="92" width="3" height="5" fill="#fff"/>
<rect x="158" y="92" width="3" height="5" fill="#fff"/>
<rect x="164" y="92" width="3" height="5" fill="#fff"/>
<rect x="169" y="92" width="3" height="5" fill="#fff"/>
<rect x="175" y="92" width="3" height="5" fill="#fff"/>
<rect x="181" y="92" width="3" height="5" fill="#fff"/>
<rect x="187" y="92" width="3" height="5" fill="#fff"/>
<rect x="193" y="92" width="3" height="5" fill="#fff"/>
<rect x="199" y="92" width="3" height="5" fill="#fff"/>
<rect x="146" y="107" width="3" height="6" fill="#fff"/>
<rect x="152" y="107" width="3" height="6" fill="#fff"/>
<rect x="158" y="107" width="3" height="6" fill="#fff"/>
<rect x="164" y="107" width="3" height="6" fill="#fff"/>
<rect x="169" y="107" width="3" height="6" fill="#fff"/>
<rect x="175" y="107" width="3" height="6" fill="#fff"/>
<rect x="181" y="107" width="3" height="6" fill="#fff"/>
<rect x="187" y="107" width="3" height="6" fill="#fff"/>
<rect x="193" y="107" width="3" height="6" fill="#fff"/>
<rect x="199" y="107" width="3" height="6" fill="#fff"/>
<rect x="151" y="100" width="21" height="5" fill="#fff"/>
<rect x="178" y="100" width="21" height="5" fill="#fff"/>
<rect x="144" y="101" width="2" height="4" fill="#fff"/>
<rect x="146" y="117" width="3" height="5" fill="#fff"/>
<rect x="152" y="117" width="3" height="5" fill="#fff"/>
<rect x="158" y="117" width="3" height="5" fill="#fff"/>
<rect x="164" y="117" width="3" height="5" fill="#fff"/>
<rect x="169" y="117" width="3" height="5" fill="#fff"/>
<rect x="175" y="117" width="3" height="5" fill="#fff"/>
<rect x="181" y="117" width="3" height="5" fill="#fff"/>
<rect x="187" y="117" width="3" height="5" fill="#fff"/>
<rect x="193" y="117" width="3" height="5" fill="#fff"/>
<rect x="199" y="117" width="3" height="5" fill="#fff"/>
<rect x="146" y="133" width="3" height="5" fill="#fff"/>
<rect x="152" y="133" width="3" height="5" fill="#fff"/>
<rect x="158" y="133" width="3" height="5" fill="#fff"/>
<rect x="164" y="133" width="3" height="5" fill="#fff"/>
<rect x="169" y="133" width="3" height="5" fill="#fff"/>
<rect x="175" y="133" width="3" height="5" fill="#fff"/>
<rect x="181" y="133" width="3" height="5" fill="#fff"/>
<rect x="187" y="133" width="3" height="5" fill="#fff"/>
<rect x="193" y="133" width="3" height="5" fill="#fff"/>
<rect x="199" y="133" width="3" height="5" fill="#fff"/>
<rect x="151" y="125" width="21" height="5" fill="#fff"/>
<rect x="178" y="125" width="21" height="5" fill="#fff"/>
<rect x="144" y="126" width="2" height="4" fill="#fff"/>
<rect x="146" y="142" width="3" height="5" fill="#fff"/>
<rect x="152" y="142" width="3" height="5" fill="#fff"/>
<rect x="158" y="142" width="3" height="5" fill="#fff"/>
<rect x="164" y="142" width="3" height="5" fill="#fff"/>
<rect x="169" y="142" width="3" height="5" fill="#fff"/>
<rect x="175" y="142" width="3" height="5" fill="#fff"/>
<rect x="181" y="142" width="3" height="5" fill="#fff"/>
<rect x="187" y="142" width="3" height="5" fill="#fff"/>
<rect x="193" y="142" width="3" height="5" fill="#fff"/>
<rect x="199" y="142" width="3" height="5" fill="#fff"/>
<rect x="146" y="158" width="3" height="5" fill="#fff"/>
<rect x="152" y="158" width="3" height="5" fill="#fff"/>
<rect x="158" y="158" width="3" height="5" fill="#fff"/>
<rect x="164" y="158" width="3" height="5" fill="#fff"/>
<rect x="169" y="158" width="3" height="5" fill="#fff"/>
<rect x="175" y="158" width="3" height="5" fill="#fff"/>
<rect x="181" y="158" width="3" height="5" fill="#fff"/>
<rect x="187" y="158" width="3" height="5" fill="#fff"/>
<rect x="193" y="158" width="3" height="5" fill="#fff"/>
<rect x="199" y="158" width="3" height="5" fill="#fff"/>
<rect x="151" y="150" width="21" height="5" fill="#fff"/>
<rect x="178" y="150" width="21" height="5" fill="#fff"/>
<rect x="144" y="151" width="2" height="4" fill="#fff"/>
<rect x="146" y="167" width="3" height="5" fill="#fff"/>
<rect x="152" y="167" width="3" height="5" fill="#fff"/>
<rect x="158" y="167" width="3" height="5" fill="#fff"/>
<rect x="164" y="167" width="3" height="5" fill="#fff"/>
<rect x="169" y="167" width="3" height="5" fill="#fff"/>
<rect x="175" y="167" width="3" height="5" fill="#fff"/>
<rect x="181" y="167" width="3" height="5" fill="#fff"/>
<rect x="187" y="167" width="3" height="5" fill="#fff"/>
<rect x="193" y="167" width="3" height="5" fill="#fff"/>
<rect x="199" y="167" width="3" height="5" fill="#fff"/>
<rect x="146" y="183" width="3" height="5" fill="#fff"/>
<rect x="152" y="183" width="3" height="5" fill="#fff"/>
<rect x="158" y="183" width="3" height="5" fill="#fff"/>
<rect x="164" y="183" width="3" height="5" fill="#fff"/>
<rect x="169" y="183" width="3" height="5" fill="#fff"/>
<rect x="175" y="183" width="3" height="5" fill="#fff"/>
<rect x="181" y="183" width="3" height="5" fill="#fff"/>
<rect x="187" y="183" width="3" height="5" fill="#fff"/>
<rect x="193" y="183" width="3" height="5" fill="#fff"/>
<rect x="199" y="183" width="3" height="5" fill="#fff"/>
<rect x="151" y="175" width="21" height="5" fill="#fff"/>
<rect x="178" y="175" width="21" height="5" fill="#fff"/>
<rect x="144" y="176" width="2" height="4" fill="#fff"/>
<rect x="146" y="192" width="3" height="5" fill="#fff"/>
<rect x="152" y="192" width="3" height="5" fill="#fff"/>
<rect x="158" y="192" width="3" height="5" fill="#fff"/>
<rect x="164" y="192" width="3" height="5" fill="#fff"/>
<rect x="169" y="192" width="3" height="5" fill="#fff"/>
<rect x="175" y="192" width="3" height="5" fill="#fff"/>
<rect x="181" y="192" width="3" height="5" fill="#fff"/>
<rect x="187" y="192" width="3" height="5" fill="#fff"/>
<rect x="193" y="192" width="3" height="5" fill="#fff"/>
<rect x="199" y="192" width="3" height="5" fill="#fff"/>
<rect x="146" y="208" width="3" height="5" fill="#fff"/>
<rect x="152" y="208" width="3" height="5" fill="#fff"/>
<rect x="158" y="208" width="3" height="5" fill="#fff"/>
<rect x="164" y="208" width="3" height="5" fill="#fff"/>
<rect x="169" y="208" width="3" height="5" fill="#fff"/>
<rect x="175" y="208" width="3" height="5" fill="#fff"/>
<rect x="181" y="208" width="3" height="5" fill="#fff"/>
<rect x="187" y="208" width="3" height="5" fill="#fff"/>
<rect x="193" y="208" width="3" height="5" fill="#fff"/>
<rect x="199" y="208" width="3" height="5" fill="#fff"/>
<rect x="151" y="200" width="21" height="5" fill="#fff"/>
<rect x="178" y="200" width="21" height="5" fill="#fff"/>
<rect x="144" y="201" width="2" height="4" fill="#fff"/>
<rect x="146" y="217" width="3" height="5" fill="#fff"/>
<rect x="152" y="217" width="3" height="5" fill="#fff"/>
<rect x="158" y="217" width="3" height="5" fill="#fff"/>
<rect x="164" y="217" width="3" height="5" fill="#fff"/>
<rect x="169" y="217" width="3" height="5" fill="#fff"/>
<rect x="175" y="217" width="3" height="5" fill="#fff"/>
<rect x="181" y="217" width="3" height="5" fill="#fff"/>
<rect x="187" y="217" width="3" height="5" fill="#fff"/>
<rect x="193" y="217" width="3" height="5" fill="#fff"/>
<rect x="199" y="217" width="3" height="5" fill="#fff"/>
<rect x="146" y="233" width="3" height="5" fill="#fff"/>
<rect x="152" y="233" width="3" height="5" fill="#fff"/>
<rect x="158" y="233" width="3" height="5" fill="#fff"/>
<rect x="164" y="233" width="3" height="5" fill="#fff"/>
<rect x="169" y="233" width="3" height="5" fill="#fff"/>
<rect x="175" y="233" width="3" height="5" fill="#fff"/>
<rect x="181" y="233" width="3" height="5" fill="#fff"/>
<rect x="187" y="233" width="3" height="5" fill="#fff"/>
<rect x="193" y="233" width="3" height="5" fill="#fff"/>
<rect x="199" y="233" width="3" height="5" fill="#fff"/>
<rect x="151" y="225" width="21" height="5" fill="#fff"/>
<rect x="178" y="225" width="21" height="5" fill="#fff"/>
<rect x="144" y="226" width="2" height="4" fill="#fff"/>
<rect x="146" y="243" width="3" height="5" fill="#fff"/>
<rect x="152" y="243" width="3" height="5" fill="#fff"/>
<rect x="158" y="243" width="3" height="5" fill="#fff"/>
<rect x="164" y="243" width="3" height="5" fill="#fff"/>
<rect x="169" y="243" width="3" height="5" fill="#fff"/>
<rect x="175" y="243" width="3" height="5" fill="#fff"/>
<rect x="181" y="243" width="3" height="5" fill="#fff"/>
<rect x="187" y="243" width="3" height="5" fill="#fff"/>
<rect x="193" y="243" width="3" height="5" fill="#fff"/>
<rect x="199" y="243" width="3" height="5" fill="#fff"/>
<rect x="146" y="258" width="3" height="6" fill="#fff"/>
<rect x="152" y="258" width="3" height="6" fill="#fff"/>
<rect x="158" y="258" width="3" height="6" fill="#fff"/>
<rect x="164" y="258" width="3" height="6" fill="#fff"/>
<rect x="169" y="258" width="3" height="6" fill="#fff"/>
<rect x="175" y="258" width="3" height="6" fill="#fff"/>
<rect x="181" y="258" width="3" height="6" fill="#fff"/>
<rect x="187" y="258" width="3" height="6" fill="#fff"/>
<rect x="193" y="258" width="3" height="6" fill="#fff"/>
<rect x="199" y="258" width="3" height="6" fill="#fff"/>
<rect x="151" y="251" width="21" height="5" fill="#fff"/>
<rect x="178" y="251" width="21" height="5" fill="#fff"/>
<rect x="144" y="252" width="2" height="4" fill="#fff"/>
<rect x="207" y="65" width="61" height="201" fill="#000"/>
<rect x="207" y="89" width="61" height="1" fill="#fff"/>
<rect x="207" y="114" width="61" height="1" fill="#fff"/>
<rect x="207" y="190" width="61" height="1" fill="#fff"/>
<rect x="207" y="215" width="61" height="1" fill="#fff"/>
<rect x="207" y="240" width="61" height="1" fill="#fff"/>
<rect x="209" y="66" width="3" height="5" fill="#fff"/>
<rect x="215" y="66" width="3" height="5" fill="#fff"/>
<rect x="221" y="66" width="3" height="5" fill="#fff"/>
<rect x="227" y="66" width="3" height="5" fill="#fff"/>
<rect x="232" y="66" width="3" height="5" fill="#fff"/>
<rect x="238" y="66" width="3" height="5" fill="#fff"/>
<rect x="244" y="66" width="3" height="5" fill="#fff"/>
<rect x="250" y="66" width="3" height="5" fill="#fff"/>
<rect x="256" y="66" width="3" height="5" fill="#fff"/>
<rect x="262" y="66" width="3" height="5" fill="#fff"/>
<rect x="209" y="82" width="3" height="5" fill="#fff"/>
<rect x="215" y="82" width="3" height="5" fill="#fff"/>
<rect x="221" y="82" width="3" height="5" fill="#fff"/>
<rect x="227" y="82" width="3" height="5" fill="#fff"/>
<rect x="232" y="82" width="3" height="5" fill="#fff"/>
<rect x="238" y="82" width="3" height="5" fill="#fff"/>
<rect x="244" y="82" width="3" height="5" fill="#fff"/>
<rect x="250" y="82" width="3" height="5" fill="#fff"/>
<rect x="256" y="82" width="3" height="5" fill="#fff"/>
<rect x="262" y="82" width="3" height="5" fill="#fff"/>
<rect x="214" y="74" width="21" height="6" fill="#fff"/>
<rect x="241" y="74" width="21" height="6" fill="#fff"/>
<rect x="207" y="75" width="2" height="4" fill="#fff"/>
<rect x="209" y="92" width="3" height="5" fill="#fff"/>
<rect x="215" y="92" width="3" height="5" fill="#fff"/>
<rect x="221" y="92" width="3" height="5" fill="#fff"/>
<rect x="227" y="92" width="3" height="5" fill="#fff"/>
<rect x="232" y="92" width="3" height="5" fill="#fff"/>
<rect x="238" y="92" width="3" height="5" fill="#fff"/>
<rect x="244" y="92" width="3" height="5" fill="#fff"/>
<rect x="250" y="92" width="3" height="5" fill="#fff"/>
<rect x="256" y="92" width="3" height="5" fill="#fff"/>
<rect x="262" y="92" width="3" height="5" fill="#fff"/>
<rect x="209" y="107" width="3" height="6" fill="#fff"/>
<rect x="215" y="107" width="3" height="6" fill="#fff"/>
<rect x="221" y="107" width="3" height="6" fill="#fff"/>
<rect x="227" y="107" width="3" height="6" fill="#fff"/>
<rect x="232" y="107" width="3" height="6" fill="#fff"/>
<rect x="238" y="107" width="3" height="6" fill="#fff"/>
<rect x="244" y="107" width="3" height="6" fill="#fff"/>
<rect x="250" y="107" width="3" height="6" fill="#fff"/>
<rect x="256" y="107" width="3" height="6" fill="#fff"/>
<rect x="262" y="107" width="3" height="6" fill="#fff"/>
<rect x="214" y="100" width="21" height="5" fill="#fff"/>
<rect x="241" y="100" width="21" height="5" fill="#fff"/>
<rect x="207" y="101" width="2" height="4" fill="#fff"/>
<rect x="209" y="117" width="3" height="5" fill="#fff"/>
<rect x="215" y="117" width="3" height="5" fill="#fff"/>
<rect x="221" y="117" width="3" height="5" fill="#fff"/>
<rect x="227" y="117" width="3" height="5" fill="#fff"/>
<rect x="232" y="117" width="3" height="5" fill="#fff"/>
<rect x="238" y="117" width="3" height="5" fill="#fff"/>
<rect x="244" y="117" width="3" height="5" fill="#fff"/>
<rect x="250" y="117" width="3" height="5" fill="#fff"/>
<rect x="256" y="117" width="3" height="5" fill="#fff"/>
<rect x="262" y="117" width="3" height="5" fill="#fff"/>
<rect x="209" y="133" width="3" height="5" fill="#fff"/>
<rect x="215" y="133" width="3" height="5" fill="#fff"/>
<rect x="221" y="133" width="3" height="5" fill="#fff"/>
<rect x="227" y="133" width="3" height="5" fill="#fff"/>
<rect x="232" y="133" width="3" height="5" fill="#fff"/>
<rect x="238" y="133" width="3" height="5" fill="#fff"/>
<rect x="244" y="133" width="3" height="5" fill="#fff"/>
<rect x="250" y="133" width="3" height="5" fill="#fff"/>
<rect x="256" y="133" width="3" height="5" fill="#fff"/>
<rect x="262" y="133" width="3" height="5" fill="#fff"/>
<rect x="214" y="125" width="21" height="5" fill="#fff"/>
<rect x="241" y="125" width="21" height="5" fill="#fff"/>
<rect x="207" y="126" width="2" height="4" fill="#fff"/>
<rect x="209" y="142" width="3" height="5" fill="#fff"/>
<rect x="215" y="142" width="3" height="5" fill="#fff"/>
<rect x="221" y="142" width="3" height="5" fill="#fff"/>
<rect x="227" y="142" width="3" height="5" fill="#fff"/>
<rect x="232" y="142" width="3" height="5" fill="#fff"/>
<rect x="238" y="142" width="3" height="5" fill="#fff"/>
<rect x="244" y="142" width="3" height="5" fill="#fff"/>
<rect x="250" y="142" width="3" height="5" fill="#fff"/>
<rect x="256" y="142" width="3" height="5" fill="#fff"/>
<rect x="262" y="142" width="3" height="5" fill="#fff"/>
<rect x="209" y="158" width="3" height="5" fill="#fff"/>
<rect x="215" y="158" width="3" height="5" fill="#fff"/>
<rect x="221" y="158" width="3" height="5" fill="#fff"/>
<rect x="227" y="158" width="3" height="5" fill="#fff"/>
<rect x="232" y="158" width="3" height="5" fill="#fff"/>
<rect x="238" y="158" width="3" height="5" fill="#fff"/>
<rect x="244" y="158" width="3" height="5" fill="#fff"/>
<rect x="250" y="158" width="3" height="5" fill="#fff"/>
<rect x="256" y="158" width="3" height="5" fill="#fff"/>
<rect x="262" y="158" width="3" height="5" fill="#fff"/>
<rect x="214" y="150" width="21" height="5" fill="#fff"/>
<rect x="241" y="150" width="21" height="5" fill="#fff"/>
<rect x="207" y="151" width="2" height="4" fill="#fff"/>
<rect x="209" y="167" width="3" height="5" fill="#fff"/>
<rect x="215" y="167" width="3" height="5" fill="#fff"/>
<rect x="221" y="167" width="3" height="5" fill="#fff"/>
<rect x="227" y="167" width="3" height="5" fill="#fff"/>
<rect x="232" y="167" width="3" height="5" fill="#fff"/>
<rect x="238" y="167" width="3" height="5" fill="#fff"/>
<rect x="244" y="167" width="3" height="5" fill="#fff"/>
<rect x="250" y="167" width="3" height="5" fill="#fff"/>
<rect x="256" y="167" width="3" height="5" fill="#fff"/>
<rect x="262" y="167" width="3" height="5" fill="#fff"/>
<rect x="209" y="183" width="3" height="5" fill="#fff"/>
<rect x="215" y="183" width="3" height="5" fill="#fff"/>
<rect x="221" y="183" width="3" height="5" fill="#fff"/>
<rect x="227" y="183" width="3" height="5" fill="#fff"/>
<rect x="232" y="183" width="3" height="5" fill="#fff"/>
<rect x="238" y="183" width="3" height="5" fill="#fff"/>
<rect x="244" y="183" width="3" height="5" fill="#fff"/>
<rect x="250" y="183" width="3" height="5" fill="#fff"/>
<rect x="256" y="183" width="3" height="5" fill="#fff"/>
<rect x="262" y="183" width="3" height="5" fill="#fff"/>
<rect x="214" y="175" width="21" height="5" fill="#fff"/>
<rect x="241" y="175" width="21" height="5" fill="#fff"/>
<rect x="207" y="176" width="2" height="4" fill="#fff"/>
<rect x="209" y="192" width="3" height="5" fill="#fff"/>
<rect x="215" y="192" width="3" height="5" fill="#fff"/>
<rect x="221" y="192" width="3" height="5" fill="#fff"/>
<rect x="227" y="192" width="3" height="5" fill="#fff"/>
<rect x="232" y="192" width="3" height="5" fill="#fff"/>
<rect x="238" y="192" width="3" height="5" fill="#fff"/>
<rect x="244" y="192" width="3" height="5" fill="#fff"/>
<rect x="250" y="192" width="3" height="5" fill="#fff"/>
<rect x="256" y="192" width="3" height="5" fill="#fff"/>
<rect x="262" y="192" width="3" height="5" fill="#fff"/>
<rect x="209" y="208" width="3" height="5" fill="#fff"/>
<rect x="215" y="208" width="3" height="5" fill="#fff"/>
<rect x="221" y="208" width="3" height="5" fill="#fff"/>
<rect x="227" y="208" width="3" height="5" fill="#fff"/>
<rect x="232" y="208" width="3" height="5" fill="#fff"/>
<rect x="238" y="208" width="3" height="5" fill="#fff"/>
<rect x="244" y="208" width="3" height="5" fill="#fff"/>
<rect x="250" y="208" width="3" height="5" fill="#fff"/>
<rect x="256" y="208" width="3" height="5" fill="#fff"/>
<rect x="262" y="208" width="3" height="5" fill="#fff"/>
<rect x="214" y="200" width="21" height="5" fill="#fff"/>
<rect x="241" y="200" width="21" height="5" fill="#fff"/>
<rect x="207" y="201" width="2" height="4" fill="#fff"/>
<rect x="209" y="217" width="3" height="5" fill="#fff"/>
<rect x="215" y="217" width="3" height="5" fill="#fff"/>
<rect x="221" y="217" width="3" height="5" fill="#fff"/>
<rect x="227" y="217" width="3" height="5" fill="#fff"/>
<rect x="232" y="217" width="3" height="5" fill="#fff"/>
<rect x="238" y="217" width="3" height="5" fill="#fff"/>
<rect x="244" y="217" width="3" height="5" fill="#fff"/>
<rect x="250" y="217" width="3" height="5" fill="#fff"/>
<rect x="256" y="217" width="3" height="5" fill="#fff"/>
<rect x="262" y="217" width="3" height="5" fill="#fff"/>
<rect x="209" y="233" width="3" height="5" fill="#fff"/>
<rect x="215" y="233" width="3" height="5" fill="#fff"/>
<rect x="221" y="233" width="3" height="5" fill="#fff"/>
<rect x="227" y="233" width="3" height="5" fill="#fff"/>
<rect x="232" y="233" width="3" height="5" fill="#fff"/>
<rect x="238" y="233" width="3" height="5" fill="#fff"/>
<rect x="244" y="233" width="3" height="5" fill="#fff"/>
<rect x="250" y="233" width="3" height="5" fill="#fff"/>
<rect x="256" y="233" width="3" height="5" fill="#fff"/>
<rect x="262" y="233" width="3" height="5" fill="#fff"/>
<rect x="214" y="225" width="21" height="5" fill="#fff"/>
<rect x="241" y="225" width="21" height="5" fill="#fff"/>
<rect x="207" y="226" width="2" height="4" fill="#fff"/>
<rect x="209" y="243" width="3" height="5" fill="#fff"/>
<rect x="215" y="243" width="3" height="5" fill="#fff"/>
<rect x="221" y="243" width="3" height="5" fill="#fff"/>
<rect x="227" y="243" width="3" height="5" fill="#fff"/>
<rect x="232" y="243" width="3" height="5" fill="#fff"/>
<rect x="238" y="243" width="3" height="5" fill="#fff"/>
<rect x="244" y="243" width="3" height="5" fill="#fff"/>
<rect x="250" y="243" width="3" height="5" fill="#fff"/>
<rect x="256" y="243" width="3" height="5" fill="#fff"/>
<rect x="262" y="243" width="3" height="5" fill="#fff"/>
<rect x="209" y="258" width="3" height="6" fill="#fff"/>
<rect x="215" y="258" width="3" height="6" fill="#fff"/>
<rect x="221" y="258" width="3" height="6" fill="#fff"/>
<rect x="227" y="258" width="3" height="6" fill="#fff"/>
<rect x="232" y="258" width="3" height="6" fill="#fff"/>
<rect x="238" y="258" width="3" height="6" fill="#fff"/>
<rect x="244" y="258" width="3" height="6" fill="#fff"/>
<rect x="250" y="258" width="3" height="6" fill="#fff"/>
<rect x="256" y="258" width="3" height="6" fill="#fff"/>
<rect x="262" y="258" width="3" height="6" fill="#fff"/>
<rect x="214" y="251" width="21" height="5" fill="#fff"/>
<rect x="241" y="251" width="21" height="5" fill="#fff"/>
<rect x="207" y="252" width="2" height="4" fill="#fff"/>
<rect x="287" y="279" width="88" height="40.5" fill="#000"/>
<rect x="287" y="323" width="88" height="41" fill="#000"/>
<rect x="287" y="294" width="2" height="12" fill="#fff"/>
<rect x="287" y="338" width="2" height="12" fill="#fff"/>
<rect x="311" y="293" width="40" height="14" fill="#fff"/>
<rect x="311" y="336" width="40" height="15" fill="#fff"/>
<path d="M317.50 293.50V302.50H319.90Q321.50 302.50 321.50 300.00Q321.50 297.50 319.90 297.50H317.50M319.90 297.50Q321.10 297.50 321.10 295.50Q321.10 293.50 319.70 293.50H317.50M325.50 293.50V302.50M333.50 293.50Q336.50 293.50 336.50 298.00Q336.50 302.50 333.50 302.50Q330.50 302.50 330.50 298.00Q330.50 293.50 333.50 293.50ZM345.50 295.30Q345.30 293.50 343.00 293.50Q340.50 293.50 340.50 295.70Q340.50 297.50 343.00 298.00Q345.50 298.50 345.50 300.30Q345.50 302.50 343.00 302.50Q340.60 302.50 340.50 300.50" class="t" stroke-width="1.0"/>
<text x="317" y="303" font-size="13" class="h">BIOS</text>
<path d="M317.50 337.50V346.50H319.90Q321.50 346.50 321.50 344.00Q321.50 341.50 319.90 341.50H317.50M319.90 341.50Q321.10 341.50 321.10 339.50Q321.10 337.50 319.70 337.50H317.50M325.50 337.50V346.50M333.50 337.50Q336.50 337.50 336.50 342.00Q336.50 346.50 333.50 346.50Q330.50 346.50 330.50 342.00Q330.50 337.50 333.50 337.50ZM345.50 339.30Q345.30 337.50 343.00 337.50Q340.50 337.50 340.50 339.70Q340.50 341.50 343.00 342.00Q345.50 342.50 345.50 344.30Q345.50 346.50 343.00 346.50Q340.60 346.50 340.50 344.50" class="t" stroke-width="1.0"/>
<text x="317" y="347" font-size="13" class="h">BIOS</text>
<rect x="289" y="281" width="3" height="1" fill="#fff"/>
<rect x="295" y="281" width="3" height="1" fill="#fff"/>
<rect x="301" y="281" width="3" height="1" fill="#fff"/>
<rect x="307" y="281" width="3" height="1" fill="#fff"/>
<rect x="313" y="281" width="3" height="1" fill="#fff"/>
<rect x="319" y="281" width="3" height="1" fill="#fff"/>
<rect x="325" y="281" width="3" height="1" fill="#fff"/>
<rect x="331" y="281" width="3" height="1" fill="#fff"/>
<rect x="337" y="281" width="3" height="1" fill="#fff"/>
<rect x="343" y="281" width="3" height="1" fill="#fff"/>
<rect x="349" y="281" width="3" height="1" fill="#fff"/>
<rect x="355" y="281" width="3" height="1" fill="#fff"/>
<rect x="361" y="281" width="3" height="1" fill="#fff"/>
<rect x="367" y="281" width="3" height="1" fill="#fff"/>
<rect x="373" y="281" width="3" height="1" fill="#fff"/>
<rect x="286" y="466" width="126" height="43" fill="#000"/>
<rect x="294" y="475" width="110" height="24" fill="#fff"/>
<rect x="289" y="468" width="3" height="5" fill="#fff"/>
<rect x="289" y="502" width="3" height="5" fill="#fff"/>
<rect x="295" y="468" width="3" height="5" fill="#fff"/>
<rect x="295" y="502" width="3" height="5" fill="#fff"/>
<rect x="301" y="468" width="3" height="5" fill="#fff"/>
<rect x="301" y="502" width="3" height="5" fill="#fff"/>
<rect x="308" y="468" width="3" height="5" fill="#fff"/>
<rect x="308" y="502" width="3" height="5" fill="#fff"/>
<rect x="314" y="468" width="3" height="5" fill="#fff"/>
<rect x="314" y="502" width="3" height="5" fill="#fff"/>
<rect x="320" y="468" width="3" height="5" fill="#fff"/>
<rect x="320" y="502" width="3" height="5" fill="#fff"/>
<rect x="326" y="468" width="3" height="5" fill="#fff"/>
<rect x="326" y="502" width="3" height="5" fill="#fff"/>
<rect x="332" y="468" width="3" height="5" fill="#fff"/>
<rect x="332" y="502" width="3" height="5" fill="#fff"/>
<rect x="339" y="468" width="3" height="5" fill="#fff"/>
<rect x="339" y="502" width="3" height="5" fill="#fff"/>
<rect x="345" y="468" width="3" height="5" fill="#fff"/>
<rect x="345" y="502" width="3" height="5" fill="#fff"/>
<rect x="351" y="468" width="3" height="5" fill="#fff"/>
<rect x="351" y="502" width="3" height="5" fill="#fff"/>
<rect x="357" y="468" width="3" height="5" fill="#fff"/>
<rect x="357" y="502" width="3" height="5" fill="#fff"/>
<rect x="363" y="468" width="3" height="5" fill="#fff"/>
<rect x="363" y="502" width="3" height="5" fill="#fff"/>
<rect x="370" y="468" width="3" height="5" fill="#fff"/>
<rect x="370" y="502" width="3" height="5" fill="#fff"/>
<rect x="376" y="468" width="3" height="5" fill="#fff"/>
<rect x="376" y="502" width="3" height="5" fill="#fff"/>
<rect x="382" y="468" width="3" height="5" fill="#fff"/>
<rect x="382" y="502" width="3" height="5" fill="#fff"/>
<rect x="388" y="468" width="3" height="5" fill="#fff"/>
<rect x="388" y="502" width="3" height="5" fill="#fff"/>
<rect x="394" y="468" width="3" height="5" fill="#fff"/>
<rect x="394" y="502" width="3" height="5" fill="#fff"/>
<rect x="401" y="468" width="3" height="5" fill="#fff"/>
<rect x="401" y="502" width="3" height="5" fill="#fff"/>
<rect x="407" y="468" width="3" height="5" fill="#fff"/>
<rect x="407" y="502" width="3" height="5" fill="#fff"/>
<rect x="346" y="475" width="6" height="24" fill="#000"/>
<rect x="332" y="478" width="33" height="19" rx="4.3" fill="#000" class="aa"/>
<rect x="334.8" y="480" width="28.4" height="14.8" rx="2.5" fill="#fff" class="aa"/>
<path d="M337.50 493.50V484.50L342.50 493.50V484.50M347.50 493.50V484.50H349.90Q351.50 484.50 351.50 486.50Q351.50 488.50 349.90 488.50H347.50M355.50 484.50V491.30Q355.50 493.50 358.00 493.50Q360.50 493.50 360.50 491.30V484.50" class="t" stroke-width="1.0"/>
<text x="337" y="494" font-size="13" class="h">NPU</text>
<path d="M423 473H474V502H428L423 497Z" fill="#000" stroke="none" stroke-width="1" />
<circle cx="430.5" cy="478" r="2.6" fill="#fff"/>
<circle cx="465.5" cy="478" r="2.6" fill="#fff"/>
<circle cx="430.5" cy="497.5" r="2.6" fill="#fff"/>
<circle cx="465.5" cy="497.5" r="2.6" fill="#fff"/>
<rect x="428" y="484" width="16" height="7" fill="#fff"/>
<rect x="450" y="484" width="18" height="7" fill="#fff"/>
<rect x="755" y="438" width="24" height="37" fill="#000"/>
<rect x="752" y="445" width="3" height="24" fill="#000"/>
<rect x="779" y="434" width="3" height="46" fill="#000"/>
<rect x="782" y="432" width="3" height="51" fill="#000"/>
<rect x="748" y="447" width="5" height="9" fill="#000"/>
<rect x="749" y="448" width="3" height="7" fill="#fff"/>
<rect x="748" y="458" width="5" height="9" fill="#000"/>
<rect x="749" y="459" width="3" height="7" fill="#fff"/>
<rect x="754" y="454" width="1" height="5" fill="#fff"/>
<path d="M755.5 373.5H775.5Q778.5 373.5 778.5 377V385L777 390L778.5 396L777 402L778.5 408V410Q778.5 413.5 775.5 413.5H755.5Q752.5 413.5 752.5 410V400L753.2 393L752.5 386V377Q752.5 373.5 755.5 373.5Z" fill="none" stroke="#000" stroke-width="1.25" class="aa"/>
<rect x="639" y="488" width="113" height="24" fill="#000"/>
<rect x="640" y="489" width="111" height="21.5" fill="#fff"/>
<rect x="640" y="495" width="111" height="1" fill="#000"/>
<rect x="641" y="493" width="7.5" height="2" fill="#000"/>
<rect x="643.2" y="491" width="3" height="2" fill="#000"/>
<rect x="641" y="498" width="7.5" height="3" fill="#000"/>
<rect x="650.1" y="493" width="7.5" height="2" fill="#000"/>
<rect x="652.3" y="491" width="3" height="2" fill="#000"/>
<rect x="650.1" y="498" width="7.5" height="3" fill="#000"/>
<rect x="659.2" y="493" width="7.5" height="2" fill="#000"/>
<rect x="661.4" y="491" width="3" height="2" fill="#000"/>
<rect x="659.2" y="498" width="7.5" height="3" fill="#000"/>
<rect x="668.3" y="493" width="7.5" height="2" fill="#000"/>
<rect x="670.5" y="491" width="3" height="2" fill="#000"/>
<rect x="668.3" y="498" width="7.5" height="3" fill="#000"/>
<rect x="677.4" y="493" width="7.5" height="2" fill="#000"/>
<rect x="679.6" y="491" width="3" height="2" fill="#000"/>
<rect x="677.4" y="498" width="7.5" height="3" fill="#000"/>
<rect x="686.5" y="493" width="7.5" height="2" fill="#000"/>
<rect x="688.7" y="491" width="3" height="2" fill="#000"/>
<rect x="686.5" y="498" width="7.5" height="3" fill="#000"/>
<rect x="695.6" y="493" width="7.5" height="2" fill="#000"/>
<rect x="697.8" y="491" width="3" height="2" fill="#000"/>
<rect x="695.6" y="498" width="7.5" height="3" fill="#000"/>
<rect x="704.7" y="493" width="7.5" height="2" fill="#000"/>
<rect x="706.9" y="491" width="3" height="2" fill="#000"/>
<rect x="704.7" y="498" width="7.5" height="3" fill="#000"/>
<rect x="713.8" y="493" width="7.5" height="2" fill="#000"/>
<rect x="716" y="491" width="3" height="2" fill="#000"/>
<rect x="713.8" y="498" width="7.5" height="3" fill="#000"/>
<rect x="722.9" y="493" width="7.5" height="2" fill="#000"/>
<rect x="725.1" y="491" width="3" height="2" fill="#000"/>
<rect x="722.9" y="498" width="7.5" height="3" fill="#000"/>
<rect x="732" y="493" width="7.5" height="2" fill="#000"/>
<rect x="734.2" y="491" width="3" height="2" fill="#000"/>
<rect x="732" y="498" width="7.5" height="3" fill="#000"/>
<rect x="741.1" y="493" width="7.5" height="2" fill="#000"/>
<rect x="743.3" y="491" width="3" height="2" fill="#000"/>
<rect x="741.1" y="498" width="7.5" height="3" fill="#000"/>
<rect x="645" y="502.3" width="6.8" height="6.5" fill="#000"/>
<rect x="646" y="503.3" width="4.8" height="4.5" fill="#fff"/>
<rect x="654.5" y="502.3" width="6.8" height="6.5" fill="#000"/>
<rect x="655.5" y="503.3" width="4.8" height="4.5" fill="#fff"/>
<rect x="664" y="502.3" width="6.8" height="6.5" fill="#000"/>
<rect x="665" y="503.3" width="4.8" height="4.5" fill="#fff"/>
<rect x="673.5" y="502.3" width="6.8" height="6.5" fill="#000"/>
<rect x="674.5" y="503.3" width="4.8" height="4.5" fill="#fff"/>
<rect x="683" y="502.3" width="6.8" height="6.5" fill="#000"/>
<rect x="684" y="503.3" width="4.8" height="4.5" fill="#fff"/>
<rect x="692" y="502.3" width="6.8" height="6.5" fill="#000"/>
<rect x="693" y="503.3" width="4.8" height="4.5" fill="#fff"/>
<rect x="701.3" y="502.3" width="6.8" height="6.5" fill="#000"/>
<rect x="702.3" y="503.3" width="4.8" height="4.5" fill="#fff"/>
<rect x="710.2" y="502.3" width="6.8" height="6.5" fill="#000"/>
<rect x="711.2" y="503.3" width="4.8" height="4.5" fill="#fff"/>
<rect x="719.3" y="502.3" width="6.8" height="6.5" fill="#000"/>
<rect x="720.3" y="503.3" width="4.8" height="4.5" fill="#fff"/>
<rect x="728.4" y="502.3" width="6.8" height="6.5" fill="#000"/>
<rect x="729.4" y="503.3" width="4.8" height="4.5" fill="#fff"/>
<rect x="739.2" y="502.3" width="6.8" height="6.5" fill="#000"/>
<rect x="740.2" y="503.3" width="4.8" height="4.5" fill="#fff"/>
<rect x="640" y="503" width="2.5" height="1" fill="#000"/>
<rect x="640" y="507.5" width="2.5" height="1" fill="#000"/>
<rect x="642" y="503" width="1" height="2" fill="#000"/>
<rect x="642" y="506.5" width="1" height="2" fill="#000"/>
<rect x="749" y="503" width="2.5" height="1" fill="#000"/>
<rect x="749" y="507.5" width="2.5" height="1" fill="#000"/>
<rect x="748.5" y="503" width="1" height="2" fill="#000"/>
<rect x="748.5" y="506.5" width="1" height="2" fill="#000"/>
<text x="629" y="50.5" font-size="10" class="h">MH2289</text>
<path d="M629.50 50.50V42.50L631.50 48.10L633.50 42.50V50.50" class="t" stroke-width="1.0"/>
<path d="M639.50 42.50V50.50M643.50 42.50V50.50M639.50 46.06H643.50" class="t" stroke-width="1.0"/>
<path d="M646.50 46.00Q646.61 44.50 649.00 44.50Q651.50 44.50 651.50 46.00Q651.50 47.20 649.50 48.25L646.50 50.50H651.50M653.50 46.00Q653.61 44.50 656.00 44.50Q658.50 44.50 658.50 46.00Q658.50 47.20 656.50 48.25L653.50 50.50H658.50M663.00 47.35Q660.72 47.35 660.72 45.92Q660.72 44.50 663.00 44.50Q665.28 44.50 665.28 45.92Q665.28 47.35 663.00 47.35Q665.50 47.35 665.50 48.92Q665.50 50.50 663.00 50.50Q660.50 50.50 660.50 48.92Q660.50 47.35 663.00 47.35ZM667.72 49.52Q668.06 50.50 670.00 50.50Q672.50 50.50 672.50 47.50V46.30Q672.50 44.50 670.00 44.50Q667.50 44.50 667.50 46.30Q667.50 47.95 670.00 47.95Q672.50 47.95 672.50 46.30" class="t" stroke-width="1.0"/>
<rect x="62" y="55" width="13" height="7" fill="#000"/>
<rect x="63" y="56" width="1" height="5" fill="#fff"/>
<rect x="68" y="56" width="1.5" height="5" fill="#fff"/>
<rect x="83" y="55" width="26" height="7" fill="#000"/>
<rect x="84" y="56" width="1.3" height="5" fill="#fff"/>
<rect x="89" y="56" width="2" height="5" fill="#fff"/>
<rect x="95" y="56" width="2" height="5" fill="#fff"/>
<rect x="100.7" y="56" width="1.5" height="5" fill="#fff"/>
<rect x="103" y="57" width="3" height="3" fill="#fff"/>
<rect x="107.3" y="56" width="0.7" height="5" fill="#fff"/>
<rect x="120" y="55" width="31" height="7" fill="#000"/>
<rect x="121" y="56" width="1.2" height="5" fill="#fff"/>
<rect x="126" y="56" width="2" height="5" fill="#fff"/>
<rect x="132" y="56" width="2" height="5" fill="#fff"/>
<rect x="138" y="56" width="1.3" height="5" fill="#fff"/>
<rect x="143.7" y="56" width="1" height="5" fill="#fff"/>
<rect x="146" y="57" width="3" height="3" fill="#fff"/>
<rect x="165" y="55" width="14" height="7" fill="#000"/>
<rect x="166.3" y="56" width="1.2" height="5" fill="#fff"/>
<rect x="170.5" y="56" width="2" height="5" fill="#fff"/>
<rect x="175.3" y="56" width="2" height="5" fill="#fff"/>
<rect x="82" y="270" width="19" height="6" fill="#000"/>
<rect x="83" y="271" width="1" height="4" fill="#fff"/>
<rect x="85" y="272" width="2" height="2" fill="#fff"/>
<rect x="88" y="271" width="2" height="4" fill="#fff"/>
<rect x="94" y="271" width="2" height="4" fill="#fff"/>
<rect x="328" y="377" width="20" height="6" fill="#000"/>
<rect x="329" y="378" width="1" height="4" fill="#fff"/>
<rect x="334" y="378" width="2" height="4" fill="#fff"/>
<rect x="340" y="378" width="1" height="4" fill="#fff"/>
<rect x="342.5" y="379" width="2.3" height="2" fill="#fff"/>
<rect x="346" y="378" width="1" height="4" fill="#fff"/>
<rect x="729" y="389" width="14" height="7" fill="#000"/>
<rect x="730" y="390" width="2" height="5" fill="#fff"/>
<rect x="734.6" y="390" width="2" height="5" fill="#fff"/>
<rect x="739" y="390" width="2" height="5" fill="#fff"/>
<rect x="443" y="431" width="14" height="7" fill="#000"/>
<rect x="444" y="432" width="1" height="5" fill="#fff"/>
<rect x="449" y="432" width="2" height="5" fill="#fff"/>
<rect x="455" y="432" width="1.2" height="5" fill="#fff"/>
<rect x="438" y="443" width="19" height="7" fill="#000"/>
<rect x="439" y="448" width="17" height="1" fill="#fff"/>
<rect x="444" y="444" width="1" height="4" fill="#fff"/>
<rect x="449" y="444" width="1.5" height="4" fill="#fff"/>
<rect x="450.5" y="444" width="5.5" height="4" fill="#fff"/>
<rect x="451.5" y="444.5" width="3" height="3" fill="#000"/>
<rect x="452.5" y="445.5" width="1" height="1" fill="#fff"/>
<rect x="584" y="478" width="14" height="7" fill="#000"/>
<rect x="585" y="479" width="1" height="5" fill="#fff"/>
<rect x="591" y="479" width="1" height="5" fill="#fff"/>
<rect x="596" y="479" width="1" height="5" fill="#fff"/>
<rect x="585" y="483" width="12" height="1" fill="#fff"/>
<rect x="536" y="501" width="26" height="7" fill="#000"/>
<rect x="537" y="502" width="1" height="5" fill="#fff"/>
<rect x="537" y="506" width="24" height="1" fill="#fff"/>
<rect x="560" y="502" width="1" height="5" fill="#fff"/>
<rect x="548.5" y="502" width="1" height="4" fill="#fff"/>
<rect x="554.8" y="502" width="1" height="4" fill="#fff"/>
<rect x="539.3" y="503" width="2.3" height="2" fill="#fff"/>
<rect x="601" y="478" width="19" height="7" fill="#000"/>
<rect x="607" y="479" width="1" height="5" fill="#fff"/>
<rect x="613" y="479" width="1" height="5" fill="#fff"/>
<rect x="614.7" y="479" width="4" height="5" fill="#fff"/>
<rect x="615.5" y="480" width="2" height="3" fill="#000"/>
<rect x="622" y="488" width="6" height="19" fill="#000"/>
<rect x="623" y="493" width="4" height="2" fill="#fff"/>
<rect x="623" y="499" width="4" height="2" fill="#fff"/>
<rect x="623" y="501.7" width="4" height="2.8" fill="#fff"/>
<rect x="624.2" y="502.3" width="1.6" height="1.6" fill="#000"/>
<rect x="623" y="505" width="4" height="1" fill="#fff"/>
<path d="M76 46L81 46L89 55L85.5 55Z" fill="#000" stroke="none" stroke-width="1" class="aa"/>
<path d="M157 46L161.5 46L149 56L146 56Z" fill="#000" stroke="none" stroke-width="1" class="aa"/>
<path d="M480.5 475.5L483.5 478L474 487.5L474 484Z" fill="#000" stroke="none" stroke-width="1" class="aa"/>
<path d="M606.3 460L611.7 460L611 468L611 474.8L610 474.8L610 478L608 478L608 474.8L607 474.8L607 468Z" fill="#000" stroke="none" stroke-width="1" class="aa"/>
<path d="M628 488L634 482L638.5 483.5L628.5 493Z" fill="#000" stroke="none" stroke-width="1" class="aa"/>
<rect x="12" y="49" width="35" height="18.3" rx="2.6" fill="#000" class="aa"/>
<rect x="14.2" y="51.4" width="30.8" height="13.9" rx="0.8" fill="#fff" class="aa"/>
<path d="M45 54.3L46.8 54.3L53.5 56.599999999999994L57.5 56.599999999999994L57.5 57.599999999999994L62 57.599999999999994L62 59.0L57.5 59.0L57.5 60.0L53.5 60.0L46.8 62.3L45 62.3Z" fill="#000" stroke="none" stroke-width="1" class="aa"/>
<path d="M43.4 55.599999999999994L46.4 55.599999999999994L53 57.849999999999994L53 58.75L46.4 61.0L43.4 61.0Z" fill="#fff" stroke="none" stroke-width="1" class="aa"/>
<path d="M23.50 53.50V60.50Q23.50 62.50 22.00 62.50Q20.50 62.50 20.50 60.30M28.50 62.50V53.50H30.90Q32.50 53.50 32.50 55.50Q32.50 57.50 30.90 57.50H28.50M37.50 57.10L39.70 54.50V62.50" class="t" stroke-width="1.0"/>
<text x="20.5" y="63" font-size="13" class="h">JP1</text>
<rect x="45.5" y="30" width="34.5" height="18.6" rx="2.6" fill="#000" class="aa"/>
<rect x="47.7" y="32.4" width="30.3" height="14.2" rx="0.8" fill="#fff" class="aa"/>
<path d="M54.50 34.50V41.50Q54.50 43.50 53.00 43.50Q51.50 43.50 51.50 41.30M59.50 43.50V34.50H61.90Q63.50 34.50 63.50 36.50Q63.50 38.50 61.90 38.50H59.50M67.50 37.50Q67.60 35.50 69.75 35.50Q72.00 35.50 72.00 37.50Q72.00 39.10 70.20 40.50L67.50 43.50H72.00" class="t" stroke-width="1.0"/>
<text x="51.5" y="44" font-size="13" class="h">JP2</text>
<rect x="153.5" y="30" width="34.5" height="18.5" rx="2.6" fill="#000" class="aa"/>
<rect x="155.7" y="32.4" width="30.3" height="14.1" rx="0.8" fill="#fff" class="aa"/>
<path d="M163.50 33.50V40.50Q163.50 42.50 162.00 42.50Q160.50 42.50 160.50 40.30M168.50 42.50V33.50H170.90Q172.50 33.50 172.50 35.50Q172.50 37.50 170.90 37.50H168.50M179.30 42.50V34.50L175.50 40.30H180.50" class="t" stroke-width="1.0"/>
<text x="160.5" y="43" font-size="13" class="h">JP4</text>
<rect x="193" y="48.8" width="36" height="17" rx="2.6" fill="#000" class="aa"/>
<rect x="195.2" y="51.2" width="31.8" height="12.6" rx="0.8" fill="#fff" class="aa"/>
<path d="M195 54.4L193.2 54.4L186.5 56.699999999999996L182.5 56.699999999999996L182.5 57.699999999999996L179 57.699999999999996L179 59.1L182.5 59.1L182.5 60.1L186.5 60.1L193.2 62.4L195 62.4Z" fill="#000" stroke="none" stroke-width="1" class="aa"/>
<path d="M196.6 55.699999999999996L193.6 55.699999999999996L187 57.949999999999996L187 58.85L193.6 61.1L196.6 61.1Z" fill="#fff" stroke="none" stroke-width="1" class="aa"/>
<path d="M203.50 52.50V59.50Q203.50 61.50 202.00 61.50Q200.50 61.50 200.50 59.30M208.50 61.50V52.50H210.90Q212.50 52.50 212.50 54.50Q212.50 56.50 210.90 56.50H208.50M220.80 53.50H217.00L216.50 57.20Q217.50 56.50 218.75 56.50Q221.00 56.60 221.00 59.00Q221.00 61.50 218.75 61.50Q216.70 61.50 216.50 59.80" class="t" stroke-width="1.0"/>
<text x="200.5" y="62" font-size="13" class="h">JP5</text>
<rect x="32" y="264" width="36" height="18.8" rx="2.6" fill="#000" class="aa"/>
<rect x="34.2" y="266.4" width="31.8" height="14.4" rx="0.8" fill="#fff" class="aa"/>
<path d="M66 268.8L67.8 268.8L74.5 271.1L78.5 271.1L78.5 272.1L82 272.1L82 273.5L78.5 273.5L78.5 274.5L74.5 274.5L67.8 276.8L66 276.8Z" fill="#000" stroke="none" stroke-width="1" class="aa"/>
<path d="M64.4 270.1L67.4 270.1L74 272.35L74 273.25L67.4 275.5L64.4 275.5Z" fill="#fff" stroke="none" stroke-width="1" class="aa"/>
<path d="M41.50 267.50V274.50Q41.50 276.50 40.00 276.50Q38.50 276.50 38.50 274.30M46.50 276.50V267.50H48.90Q50.50 267.50 50.50 269.50Q50.50 271.50 48.90 271.50H46.50M54.50 270.10Q54.70 268.50 56.75 268.50Q59.00 268.50 59.00 270.50Q59.00 272.50 56.50 272.50Q59.00 272.50 59.00 274.50Q59.00 276.50 56.75 276.50Q54.70 276.50 54.50 274.80" class="t" stroke-width="1.0"/>
<text x="38.5" y="277" font-size="13" class="h">JP3</text>
<rect x="362" y="371" width="42" height="18" rx="2.6" fill="#000" class="aa"/>
<rect x="364.2" y="373.4" width="37.8" height="13.6" rx="0.8" fill="#fff" class="aa"/>
<path d="M364 376L362.2 376L355.5 378.3L351.5 378.3L351.5 379.3L348 379.3L348 380.7L351.5 380.7L351.5 381.7L355.5 381.7L362.2 384L364 384Z" fill="#000" stroke="none" stroke-width="1" class="aa"/>
<path d="M365.6 377.3L362.6 377.3L356 379.55L356 380.45L362.6 382.7L365.6 382.7Z" fill="#fff" stroke="none" stroke-width="1" class="aa"/>
<path d="M371.50 374.50V381.50Q371.50 383.50 370.00 383.50Q368.50 383.50 368.50 381.30M377.50 383.50V374.50H379.90Q381.50 374.50 381.50 376.50Q381.50 378.50 379.90 378.50H377.50M386.50 378.10L388.70 375.50V383.50M392.50 377.50Q392.60 375.50 394.75 375.50Q397.00 375.50 397.00 377.50Q397.00 379.10 395.20 380.50L392.50 383.50H397.00" class="t" stroke-width="1.0"/>
<text x="368.5" y="384" font-size="13" class="h">JP12</text>
<rect x="673.2" y="382.7" width="41.8" height="19.3" rx="2.6" fill="#000" class="aa"/>
<rect x="675.4" y="385.1" width="37.6" height="14.9" rx="0.8" fill="#fff" class="aa"/>
<path d="M713 388.3L714.8 388.3L721.5 390.6L725.5 390.6L725.5 391.6L729 391.6L729 393.0L725.5 393.0L725.5 394.0L721.5 394.0L714.8 396.3L713 396.3Z" fill="#000" stroke="none" stroke-width="1" class="aa"/>
<path d="M711.4 389.6L714.4 389.6L721 391.85L721 392.75L714.4 395.0L711.4 395.0Z" fill="#fff" stroke="none" stroke-width="1" class="aa"/>
<path d="M682.50 386.50V393.50Q682.50 395.50 681.00 395.50Q679.50 395.50 679.50 393.30M687.50 395.50V386.50H689.90Q691.50 386.50 691.50 388.50Q691.50 390.50 689.90 390.50H687.50M695.50 390.10L697.70 387.50V395.50M705.50 387.50L707.50 389.70V393.30L705.50 395.50L703.50 393.30V389.70Z" class="t" stroke-width="1.0"/>
<text x="679.5" y="396" font-size="13" class="h">JP10</text>
<rect x="471.4" y="425" width="35.7" height="18.9" rx="2.6" fill="#000" class="aa"/>
<rect x="473.6" y="427.8" width="31.5" height="14.1" rx="0.8" fill="#fff" class="aa"/>
<path d="M473.5 430.5L471.7 430.5L465.0 432.8L461.0 432.8L461.0 433.8L457 433.8L457 435.2L461.0 435.2L461.0 436.2L465.0 436.2L471.7 438.5L473.5 438.5Z" fill="#000" stroke="none" stroke-width="1" class="aa"/>
<path d="M475.1 431.8L472.1 431.8L465.5 434.05L465.5 434.95L472.1 437.2L475.1 437.2Z" fill="#fff" stroke="none" stroke-width="1" class="aa"/>
<path d="M482.50 428.50V435.50Q482.50 437.50 481.00 437.50Q479.50 437.50 479.50 435.30M487.50 437.50V428.50H489.90Q491.50 428.50 491.50 430.50Q491.50 432.50 489.90 432.50H487.50M498.80 430.80Q498.50 429.50 496.75 429.50Q494.50 429.50 494.50 433.50V435.10Q494.50 437.50 496.75 437.50Q499.00 437.50 499.00 435.10Q499.00 432.90 496.75 432.90Q494.50 432.90 494.50 435.10" class="t" stroke-width="1.0"/>
<text x="479.5" y="438" font-size="13" class="h">JP6</text>
<rect x="382.7" y="437.3" width="40.8" height="18.1" rx="2.6" fill="#000" class="aa"/>
<rect x="384.9" y="439.7" width="36.6" height="13.7" rx="0.8" fill="#fff" class="aa"/>
<path d="M421.5 442.3L423.3 442.3L430.0 444.6L434.0 444.6L434.0 445.6L438 445.6L438 447.0L434.0 447.0L434.0 448.0L430.0 448.0L423.3 450.3L421.5 450.3Z" fill="#000" stroke="none" stroke-width="1" class="aa"/>
<path d="M419.9 443.6L422.9 443.6L429.5 445.85L429.5 446.75L422.9 449.0L419.9 449.0Z" fill="#fff" stroke="none" stroke-width="1" class="aa"/>
<path d="M390.50 441.50V448.50Q390.50 450.50 389.00 450.50Q387.50 450.50 387.50 448.30M395.50 450.50V441.50H397.90Q399.50 441.50 399.50 443.50Q399.50 445.50 397.90 445.50H395.50M403.50 445.10L405.70 442.50V450.50M410.50 445.10L412.70 442.50V450.50" class="t" stroke-width="1.0"/>
<text x="387.5" y="451" font-size="13" class="h">JP11</text>
<rect x="534.3" y="473.3" width="35.2" height="17.2" rx="2.6" fill="#000" class="aa"/>
<rect x="536.5" y="475.7" width="31" height="12.8" rx="0.8" fill="#fff" class="aa"/>
<path d="M567.5 478L569.3 478L576.0 480.3L580.0 480.3L580.0 481.3L584.5 481.3L584.5 482.7L580.0 482.7L580.0 483.7L576.0 483.7L569.3 486L567.5 486Z" fill="#000" stroke="none" stroke-width="1" class="aa"/>
<path d="M565.9 479.3L568.9 479.3L575.5 481.55L575.5 482.45L568.9 484.7L565.9 484.7Z" fill="#fff" stroke="none" stroke-width="1" class="aa"/>
<path d="M543.50 476.50V483.50Q543.50 485.50 542.00 485.50Q540.50 485.50 540.50 483.30M548.50 485.50V476.50H550.90Q552.50 476.50 552.50 478.50Q552.50 480.50 550.90 480.50H548.50M558.75 481.30Q556.70 481.30 556.70 479.40Q556.70 477.50 558.75 477.50Q560.80 477.50 560.80 479.40Q560.80 481.30 558.75 481.30Q561.00 481.30 561.00 483.40Q561.00 485.50 558.75 485.50Q556.50 485.50 556.50 483.40Q556.50 481.30 558.75 481.30Z" class="t" stroke-width="1.0"/>
<text x="540.5" y="486" font-size="13" class="h">JP8</text>
<rect x="486" y="495.3" width="35.7" height="18.3" rx="2.6" fill="#000" class="aa"/>
<rect x="488.2" y="497.7" width="31.5" height="13.9" rx="0.8" fill="#fff" class="aa"/>
<path d="M519.7 500.5L521.5 500.5L528.2 502.8L532.2 502.8L532.2 503.8L536 503.8L536 505.2L532.2 505.2L532.2 506.2L528.2 506.2L521.5 508.5L519.7 508.5Z" fill="#000" stroke="none" stroke-width="1" class="aa"/>
<path d="M518.1 501.8L521.1 501.8L527.7 504.05L527.7 504.95L521.1 507.2L518.1 507.2Z" fill="#fff" stroke="none" stroke-width="1" class="aa"/>
<path d="M495.50 499.50V506.50Q495.50 508.50 494.00 508.50Q492.50 508.50 492.50 506.30M500.50 508.50V499.50H502.90Q504.50 499.50 504.50 501.50Q504.50 503.50 502.90 503.50H500.50M508.50 500.50H513.00L510.10 508.50" class="t" stroke-width="1.0"/>
<text x="492.5" y="509" font-size="13" class="h">JP7</text>
<rect x="593.2" y="444" width="33.7" height="18.8" rx="2.6" fill="#000" class="aa"/>
<rect x="595.4" y="446.4" width="29.5" height="14.4" rx="0.8" fill="#fff" class="aa"/>
<path d="M601.50 447.50V454.50Q601.50 456.50 600.00 456.50Q598.50 456.50 598.50 454.30M606.50 456.50V447.50H608.90Q610.50 447.50 610.50 449.50Q610.50 451.50 608.90 451.50H606.50M614.70 455.20Q615.00 456.50 616.75 456.50Q619.00 456.50 619.00 452.50V450.90Q619.00 448.50 616.75 448.50Q614.50 448.50 614.50 450.90Q614.50 453.10 616.75 453.10Q619.00 453.10 619.00 450.90" class="t" stroke-width="1.0"/>
<text x="598.5" y="457" font-size="13" class="h">JP9</text>
<rect x="636" y="465.3" width="41.5" height="18.3" rx="2.6" fill="#000" class="aa"/>
<rect x="638.2" y="467.7" width="37.3" height="13.9" rx="0.8" fill="#fff" class="aa"/>
<path d="M645.50 468.50V475.50Q645.50 477.50 644.00 477.50Q642.50 477.50 642.50 475.30M649.50 477.50V468.50H651.90Q653.50 468.50 653.50 470.50Q653.50 472.50 651.90 472.50H649.50M657.50 472.10L659.70 469.50V477.50M665.50 471.10Q665.70 469.50 667.75 469.50Q670.00 469.50 670.00 471.50Q670.00 473.50 667.50 473.50Q670.00 473.50 670.00 475.50Q670.00 477.50 667.75 477.50Q665.70 477.50 665.50 475.80" class="t" stroke-width="1.0"/>
<text x="642.5" y="478" font-size="13" class="h">JP13</text>
<rect x="480" y="460" width="24.7" height="17.8" rx="1.8" fill="#000" class="aa"/>
<rect x="482" y="461.6" width="20.9" height="14.4" rx="0.5" fill="#fff" class="aa"/>
<path d="M483.50 462.50L486.50 467.20L489.50 462.50M486.50 467.20V471.50M493.50 465.10Q493.70 463.50 495.75 463.50Q498.00 463.50 498.00 465.50Q498.00 467.50 495.50 467.50Q498.00 467.50 498.00 469.50Q498.00 471.50 495.75 471.50Q493.70 471.50 493.50 469.80" class="t" stroke-width="1.0"/>
<text x="483" y="472" font-size="13" class="h">Y3</text>
<rect x="241" y="8.8" width="73" height="19.2" rx="2.6" fill="#000" class="aa"/>
<rect x="243.2" y="10.4" width="69" height="15.4" rx="0.8" fill="#fff" class="aa"/>
<text x="251" y="22" font-size="13" class="h">BANK 0A</text>
<path d="M251.50 12.50V21.50H253.90Q255.50 21.50 255.50 19.00Q255.50 16.50 253.90 16.50H251.50M253.90 16.50Q255.10 16.50 255.10 14.50Q255.10 12.50 253.70 12.50H251.50M259.50 21.50L262.50 12.50L265.50 21.50M260.60 18.50H264.40M269.50 21.50V12.50L274.50 21.50V12.50M278.50 12.50V21.50M283.50 12.50L278.50 18.10M280.30 16.20L283.50 21.50M294.50 13.50L296.50 15.70V19.30L294.50 21.50L292.50 19.30V15.70ZM299.50 21.50L302.50 12.50L305.50 21.50M300.60 18.50H304.40" class="t" stroke-width="1.0"/>
<rect x="241" y="32" width="73" height="18.7" rx="2.6" fill="#000" class="aa"/>
<rect x="243.2" y="33.6" width="69" height="14.9" rx="0.8" fill="#fff" class="aa"/>
<text x="251" y="44" font-size="13" class="h">BANK 1A</text>
<path d="M251.50 34.50V43.50H253.90Q255.50 43.50 255.50 41.00Q255.50 38.50 253.90 38.50H251.50M253.90 38.50Q255.10 38.50 255.10 36.50Q255.10 34.50 253.70 34.50H251.50M259.50 43.50L262.50 34.50L265.50 43.50M260.60 40.50H264.40M269.50 43.50V34.50L274.50 43.50V34.50M278.50 34.50V43.50M283.50 34.50L278.50 40.10M280.30 38.20L283.50 43.50M293.50 38.10L295.70 35.50V43.50M299.50 43.50L302.50 34.50L305.50 43.50M300.60 40.50H304.40" class="t" stroke-width="1.0"/>
<rect x="40.3" y="91.5" width="18.7" height="76.7" rx="3.0" fill="#000" class="aa"/>
<rect x="41.5" y="93.9" width="15.2" height="71.7" rx="1.2000000000000002" fill="#fff" class="aa"/>
<path d="M47.50 97.50V106.50H49.90Q51.50 106.50 51.50 104.00Q51.50 101.50 49.90 101.50H47.50M49.90 101.50Q51.10 101.50 51.10 99.50Q51.10 97.50 49.70 97.50H47.50" class="t" stroke-width="1.0"/>
<text x="46" y="107" font-size="13" class="h">B</text>
<path d="M46.50 120.50L49.50 111.50L52.50 120.50M47.60 117.50H51.40" class="t" stroke-width="1.0"/>
<text x="45" y="121" font-size="13" class="h">A</text>
<path d="M46.50 135.50V126.50L51.50 135.50V126.50" class="t" stroke-width="1.0"/>
<text x="45.5" y="136" font-size="13" class="h">N</text>
<path d="M46.50 140.50V149.50M51.50 140.50L46.50 146.10M48.30 144.20L51.50 149.50" class="t" stroke-width="1.0"/>
<text x="45.5" y="150" font-size="13" class="h">K</text>
<path d="M46.50 157.10Q46.70 155.50 48.75 155.50Q51.00 155.50 51.00 157.50Q51.00 159.50 48.50 159.50Q51.00 159.50 51.00 161.50Q51.00 163.50 48.75 163.50Q46.70 163.50 46.50 161.80" class="t" stroke-width="1.0"/>
<text x="45.75" y="164" font-size="13" class="h">3</text>
<rect x="102.3" y="91.5" width="18.7" height="76.7" rx="3.0" fill="#000" class="aa"/>
<rect x="103.5" y="93.9" width="15.2" height="71.7" rx="1.2000000000000002" fill="#fff" class="aa"/>
<path d="M109.50 97.50V106.50H111.90Q113.50 106.50 113.50 104.00Q113.50 101.50 111.90 101.50H109.50M111.90 101.50Q113.10 101.50 113.10 99.50Q113.10 97.50 111.70 97.50H109.50" class="t" stroke-width="1.0"/>
<text x="108" y="107" font-size="13" class="h">B</text>
<path d="M108.50 120.50L111.50 111.50L114.50 120.50M109.60 117.50H113.40" class="t" stroke-width="1.0"/>
<text x="107" y="121" font-size="13" class="h">A</text>
<path d="M108.50 135.50V126.50L113.50 135.50V126.50" class="t" stroke-width="1.0"/>
<text x="107.5" y="136" font-size="13" class="h">N</text>
<path d="M108.50 140.50V149.50M113.50 140.50L108.50 146.10M110.30 144.20L113.50 149.50" class="t" stroke-width="1.0"/>
<text x="107.5" y="150" font-size="13" class="h">K</text>
<path d="M108.50 157.50Q108.60 155.50 110.75 155.50Q113.00 155.50 113.00 157.50Q113.00 159.10 111.20 160.50L108.50 163.50H113.00" class="t" stroke-width="1.0"/>
<text x="107.75" y="164" font-size="13" class="h">2</text>
<rect x="292.4" y="91.5" width="18.6" height="76.7" rx="3.0" fill="#000" class="aa"/>
<rect x="294.2" y="93.9" width="13.6" height="71.7" rx="1.2000000000000002" fill="#fff" class="aa"/>
<path d="M299.50 97.50V106.50H301.90Q303.50 106.50 303.50 104.00Q303.50 101.50 301.90 101.50H299.50M301.90 101.50Q303.10 101.50 303.10 99.50Q303.10 97.50 301.70 97.50H299.50" class="t" stroke-width="1.0"/>
<text x="298" y="107" font-size="13" class="h">B</text>
<path d="M298.50 120.50L301.50 111.50L304.50 120.50M299.60 117.50H303.40" class="t" stroke-width="1.0"/>
<text x="297" y="121" font-size="13" class="h">A</text>
<path d="M298.50 135.50V126.50L303.50 135.50V126.50" class="t" stroke-width="1.0"/>
<text x="297.5" y="136" font-size="13" class="h">N</text>
<path d="M298.50 140.50V149.50M303.50 140.50L298.50 146.10M300.30 144.20L303.50 149.50" class="t" stroke-width="1.0"/>
<text x="297.5" y="150" font-size="13" class="h">K</text>
<path d="M299.50 158.10L301.70 155.50V163.50" class="t" stroke-width="1.0"/>
<text x="298.5" y="164" font-size="13" class="h">1</text>
<rect x="354.4" y="91.5" width="18.6" height="76.7" rx="3.0" fill="#000" class="aa"/>
<rect x="356.2" y="93.9" width="13.6" height="71.7" rx="1.2000000000000002" fill="#fff" class="aa"/>
<path d="M361.50 97.50V106.50H363.90Q365.50 106.50 365.50 104.00Q365.50 101.50 363.90 101.50H361.50M363.90 101.50Q365.10 101.50 365.10 99.50Q365.10 97.50 363.70 97.50H361.50" class="t" stroke-width="1.0"/>
<text x="360" y="107" font-size="13" class="h">B</text>
<path d="M360.50 120.50L363.50 111.50L366.50 120.50M361.60 117.50H365.40" class="t" stroke-width="1.0"/>
<text x="359" y="121" font-size="13" class="h">A</text>
<path d="M360.50 135.50V126.50L365.50 135.50V126.50" class="t" stroke-width="1.0"/>
<text x="359.5" y="136" font-size="13" class="h">N</text>
<path d="M360.50 140.50V149.50M365.50 140.50L360.50 146.10M362.30 144.20L365.50 149.50" class="t" stroke-width="1.0"/>
<text x="359.5" y="150" font-size="13" class="h">K</text>
<path d="M363.50 155.50L365.50 157.70V161.30L363.50 163.50L361.50 161.30V157.70Z" class="t" stroke-width="1.0"/>
<text x="360" y="164" font-size="13" class="h">0</text>
<rect x="165.2" y="92" width="17.8" height="95.5" rx="3.0" fill="#000" class="aa"/>
<rect x="166.8" y="94.4" width="14.2" height="90.5" rx="1.2000000000000002" fill="#fff" class="aa"/>
<path d="M169.50 95.50V104.50H171.90Q173.50 104.50 173.50 102.00Q173.50 99.50 171.90 99.50H169.50M171.90 99.50Q173.10 99.50 173.10 97.50Q173.10 95.50 171.70 95.50H169.50" class="t" stroke-width="1.0"/>
<text x="168.5" y="105" font-size="13" class="h">B</text>
<path d="M168.50 119.50L171.50 110.50L174.50 119.50M169.60 116.50H173.40" class="t" stroke-width="1.0"/>
<text x="167.5" y="120" font-size="13" class="h">A</text>
<path d="M169.50 134.50V125.50L174.50 134.50V125.50" class="t" stroke-width="1.0"/>
<text x="168" y="135" font-size="13" class="h">N</text>
<path d="M169.50 140.50V149.50M174.50 140.50L169.50 146.10M171.30 144.20L174.50 149.50" class="t" stroke-width="1.0"/>
<text x="168" y="150" font-size="13" class="h">K</text>
<path d="M170.50 159.10L172.70 156.50V164.50" class="t" stroke-width="1.0"/>
<text x="169" y="165" font-size="13" class="h">1</text>
<path d="M169.50 170.50V179.50H171.90Q173.50 179.50 173.50 177.00Q173.50 174.50 171.90 174.50H169.50M171.90 174.50Q173.10 174.50 173.10 172.50Q173.10 170.50 171.70 170.50H169.50" class="t" stroke-width="1.0"/>
<text x="168.5" y="180" font-size="13" class="h">B</text>
<rect x="228.2" y="92.5" width="18" height="95" rx="3.0" fill="#000" class="aa"/>
<rect x="229.8" y="94.9" width="14.8" height="90" rx="1.2000000000000002" fill="#fff" class="aa"/>
<path d="M233.50 96.50V105.50H235.90Q237.50 105.50 237.50 103.00Q237.50 100.50 235.90 100.50H233.50M235.90 100.50Q237.10 100.50 237.10 98.50Q237.10 96.50 235.70 96.50H233.50" class="t" stroke-width="1.0"/>
<text x="232.5" y="106" font-size="13" class="h">B</text>
<path d="M232.50 121.50L235.50 112.50L238.50 121.50M233.60 118.50H237.40" class="t" stroke-width="1.0"/>
<text x="231.5" y="122" font-size="13" class="h">A</text>
<path d="M233.50 136.50V127.50L238.50 136.50V127.50" class="t" stroke-width="1.0"/>
<text x="232" y="137" font-size="13" class="h">N</text>
<path d="M233.50 142.50V151.50M238.50 142.50L233.50 148.10M235.30 146.20L238.50 151.50" class="t" stroke-width="1.0"/>
<text x="232" y="152" font-size="13" class="h">K</text>
<path d="M235.50 158.50L237.50 160.70V164.30L235.50 166.50L233.50 164.30V160.70Z" class="t" stroke-width="1.0"/>
<text x="232.5" y="167" font-size="13" class="h">0</text>
<path d="M233.50 172.50V181.50H235.90Q237.50 181.50 237.50 179.00Q237.50 176.50 235.90 176.50H233.50M235.90 176.50Q237.10 176.50 237.10 174.50Q237.10 172.50 235.70 172.50H233.50" class="t" stroke-width="1.0"/>
<text x="232.5" y="182" font-size="13" class="h">B</text>
<rect x="34" y="225" width="28" height="14" fill="#000"/>
<rect x="32" y="225" width="29" height="14" rx="1.5" fill="#fff" class="aa"/>
<path d="M37.50 235.50V226.50H39.90Q41.50 226.50 41.50 228.50Q41.50 230.50 39.90 230.50H37.50M45.50 232.50H48.50M51.50 229.10Q51.70 227.50 53.75 227.50Q56.00 227.50 56.00 229.50Q56.00 231.50 53.50 231.50Q56.00 231.50 56.00 233.50Q56.00 235.50 53.75 235.50Q51.70 235.50 51.50 233.80" class="t" stroke-width="1.0"/>
<text x="37.5" y="236" font-size="13" class="h">P-3</text>
<rect x="97" y="225" width="27" height="14" fill="#000"/>
<rect x="95" y="225" width="28" height="14" rx="1.5" fill="#fff" class="aa"/>
<path d="M100.50 235.50V226.50H102.90Q104.50 226.50 104.50 228.50Q104.50 230.50 102.90 230.50H100.50M108.50 232.50H111.50M114.50 229.50Q114.60 227.50 116.75 227.50Q119.00 227.50 119.00 229.50Q119.00 231.10 117.20 232.50L114.50 235.50H119.00" class="t" stroke-width="1.0"/>
<text x="100.5" y="236" font-size="13" class="h">P-2</text>
<rect x="286.5" y="225" width="28" height="13.5" fill="#000"/>
<rect x="284.5" y="225" width="29.0" height="13.5" rx="1.5" fill="#fff" class="aa"/>
<path d="M290.50 235.50V226.50H292.90Q294.50 226.50 294.50 228.50Q294.50 230.50 292.90 230.50H290.50M298.50 232.50H301.50M305.50 230.10L307.70 227.50V235.50" class="t" stroke-width="1.0"/>
<text x="290.5" y="236" font-size="13" class="h">P-1</text>
<rect x="349" y="225" width="27.3" height="13.5" fill="#000"/>
<rect x="347" y="225" width="28.30000000000001" height="13.5" rx="1.5" fill="#fff" class="aa"/>
<path d="M351.50 235.50V226.50H353.90Q355.50 226.50 355.50 228.50Q355.50 230.50 353.90 230.50H351.50M359.50 232.50H362.50M367.50 227.50L369.50 229.70V233.30L367.50 235.50L365.50 233.30V229.70Z" class="t" stroke-width="1.0"/>
<text x="351.5" y="236" font-size="13" class="h">P-0</text>
<rect x="158" y="233" width="34" height="14" fill="#000"/>
<rect x="156" y="233" width="35" height="14" rx="1.5" fill="#fff" class="aa"/>
<path d="M159.50 243.50V234.50H161.90Q163.50 234.50 163.50 236.50Q163.50 238.50 161.90 238.50H159.50M167.50 240.50H170.50M175.50 238.10L177.70 235.50V243.50M181.50 234.50V243.50H183.90Q185.50 243.50 185.50 241.00Q185.50 238.50 183.90 238.50H181.50M183.90 238.50Q185.10 238.50 185.10 236.50Q185.10 234.50 183.70 234.50H181.50" class="t" stroke-width="1.0"/>
<text x="159.5" y="244" font-size="13" class="h">P-1B</text>
<rect x="221.5" y="233" width="34.5" height="14" fill="#000"/>
<rect x="219.5" y="233" width="35.5" height="14" rx="1.5" fill="#fff" class="aa"/>
<path d="M223.50 243.50V234.50H225.90Q227.50 234.50 227.50 236.50Q227.50 238.50 225.90 238.50H223.50M231.50 240.50H234.50M240.50 235.50L242.50 237.70V241.30L240.50 243.50L238.50 241.30V237.70ZM245.50 234.50V243.50H247.90Q249.50 243.50 249.50 241.00Q249.50 238.50 247.90 238.50H245.50M247.90 238.50Q249.10 238.50 249.10 236.50Q249.10 234.50 247.70 234.50H245.50" class="t" stroke-width="1.0"/>
<text x="223.5" y="244" font-size="13" class="h">P-0B</text>
</svg></body></html>
